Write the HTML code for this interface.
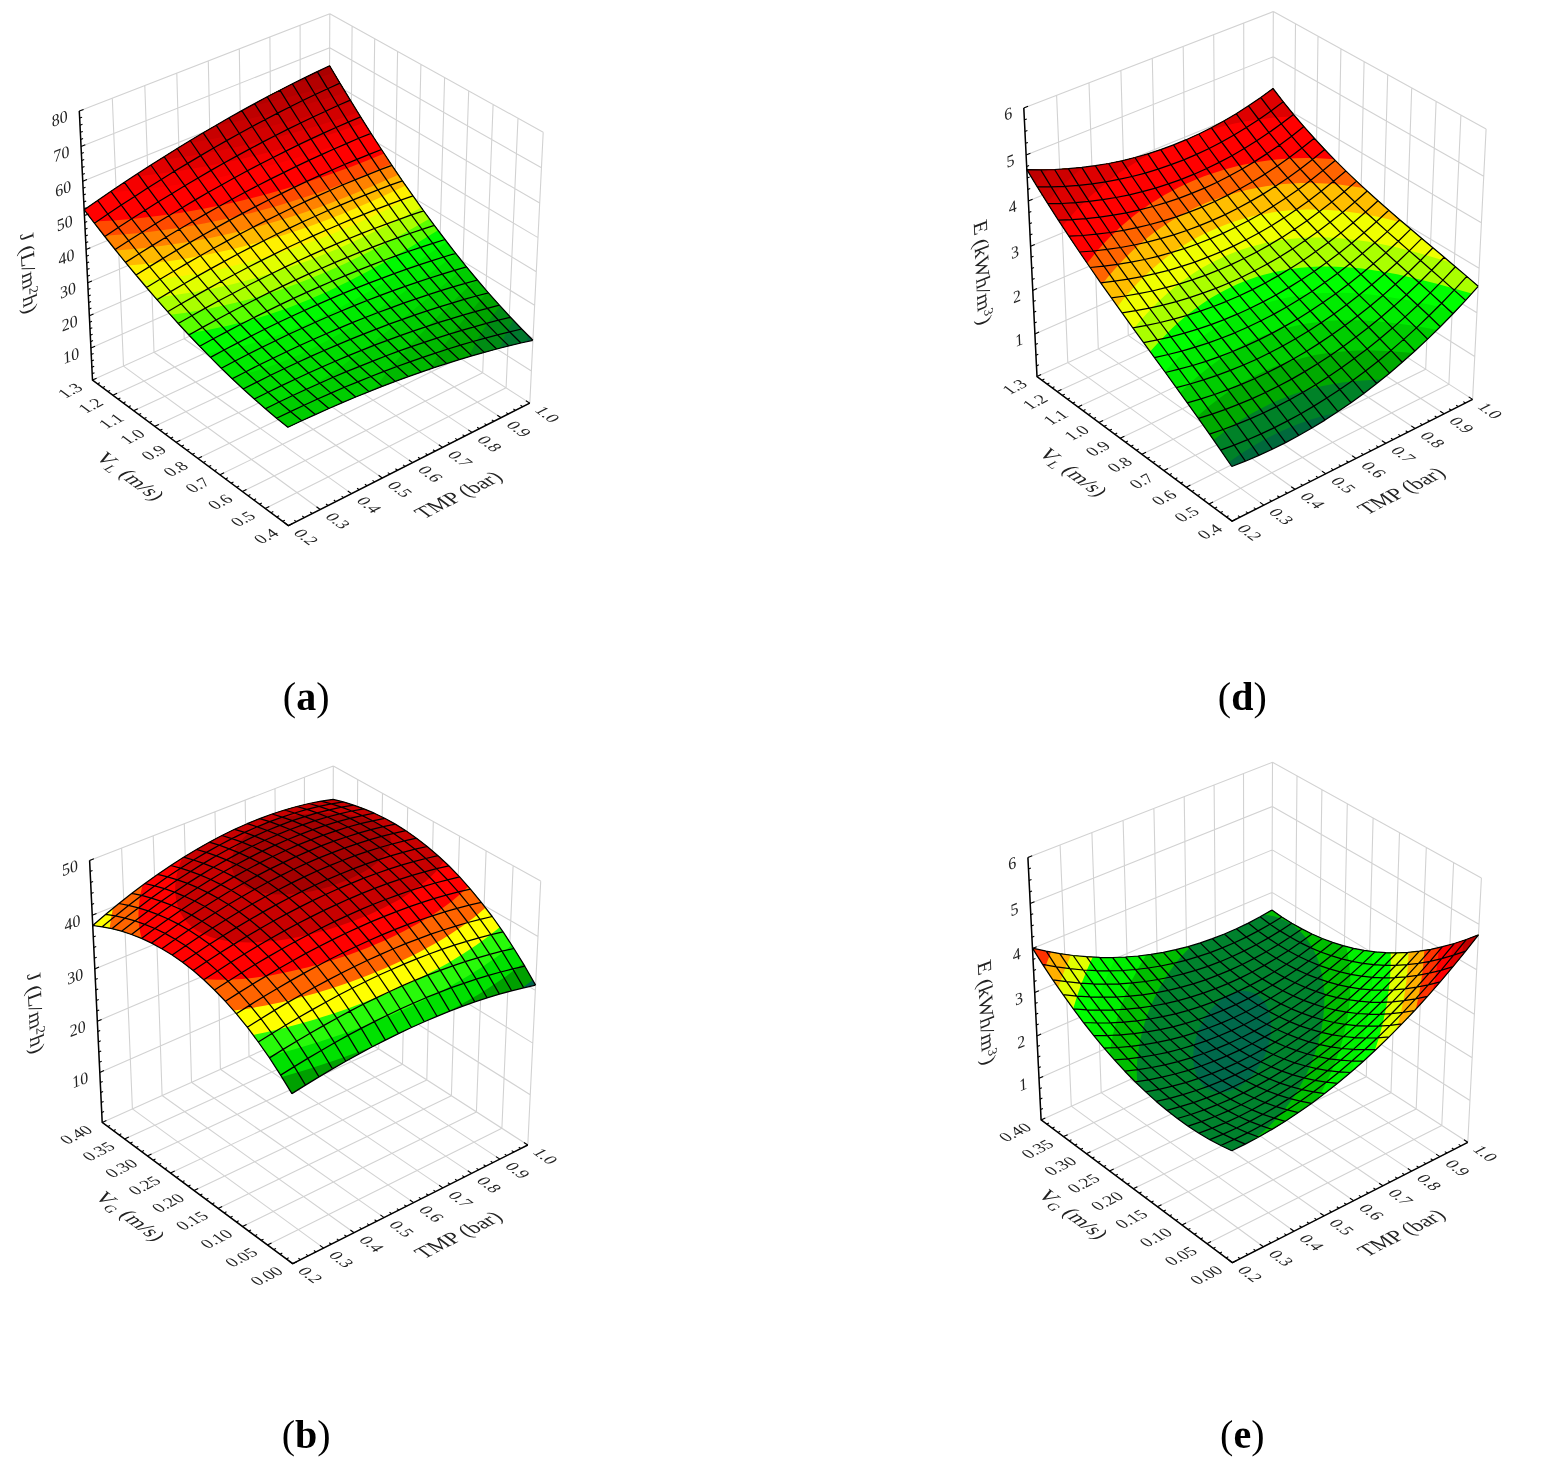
<!DOCTYPE html>
<html><head><meta charset="utf-8"><title>Figure</title>
<style>
html,body{margin:0;padding:0;background:#fff}
body{width:1546px;height:1476px;position:relative;overflow:hidden}
svg{position:absolute;left:0;top:0}
.g{fill:none;stroke:#d2d2d2;stroke-width:1.1}
.m{fill:none;stroke:#000;stroke-width:1.25;stroke-linejoin:round}
.ax{fill:none;stroke:#000;stroke-width:1.5;stroke-linejoin:miter}
.tk{fill:none;stroke:#000;stroke-width:1.1}
.tl text{font-family:"Liberation Serif",serif;fill:#222}
.pl{font-family:"Liberation Serif",serif;font-size:40px;fill:#000}
</style></head><body>
<svg width="1546" height="1476" viewBox="0 0 1546 1476">
<g>
<path d="M288.4,525.7L92.5,380.1M92.5,380.1L79.3,111M320.2,509.5L123.5,366.1M123.5,366.1L112.3,98.2M351.5,493.6L154,352.3M154,352.3L144.8,85.6M382.3,478L184.2,338.7M184.2,338.7L176.8,73.2M412.7,462.6L213.9,325.3M213.9,325.3L208.3,60.9M442.6,447.4L243.2,312M243.2,312L239.3,48.9M472.1,432.4L272.1,299M272.1,299L269.9,37M501.2,417.7L300.6,286.1M300.6,286.1L300.1,25.2M529.8,403.1L328.7,273.4M328.7,273.4L329.8,13.7M288.4,525.7L529.8,403.1M529.8,403.1L543.2,132.2M265.2,508.4L506.1,387.8M506.1,387.8L518,118.1M242.4,491.5L482.7,372.8M482.7,372.8L493.1,104.4M220,474.8L459.7,357.9M459.7,357.9L468.7,90.8M197.9,458.4L437.1,343.3M437.1,343.3L444.6,77.4M176.1,442.2L414.8,328.9M414.8,328.9L420.9,64.3M154.7,426.3L392.8,314.7M392.8,314.7L397.6,51.3M133.6,410.7L371.1,300.8M371.1,300.8L374.7,38.6M112.9,395.3L349.8,287M349.8,287L352.1,26M92.5,380.1L328.7,273.4M328.7,273.4L329.8,13.7M92.5,380.1L328.7,273.4M328.7,273.4L529.8,403.1M90.9,348.1L328.9,242.5M328.9,242.5L531.4,371M89.3,315.7L329,211.1M329,211.1L533,338.4M87.7,282.8L329.1,179.4M329.1,179.4L534.6,305.3M86.1,249.5L329.3,147.1M329.3,147.1L536.3,271.7M84.4,215.6L329.4,114.5M329.4,114.5L538,237.6M82.8,181.3L329.5,81.3M329.5,81.3L539.7,203M81.1,146.4L329.7,47.8M329.7,47.8L541.5,167.8M79.3,111L329.8,13.7M329.8,13.7L543.2,132.2" class="g"/>
<path d="M287.9,427.3L318.7,413L335.6,405.5L352.4,398.4L382.2,386.4L398.6,380.2L414.8,374.3L443.6,364.6L459.3,359.6L475,355L502.7,347.5L517.9,343.7L532.9,340.3L521.7,329L507.7,314.3L496.6,302.1L482.9,286.4L472,273.5L458.4,256.7L445,239.5L431.6,221.7L421,207.1L407.7,188.4L394.6,169.2L381.5,149.5L368.4,129.2L355.4,108.5L342.5,87.4L329.6,65.7L298.6,80.7L270.4,95.1L238.6,112.4L209.7,129L177.2,148.5L147.6,167.2L114.4,189L84.2,209.8L109.9,243L122.9,259.2L136,275L149.1,290.5L162.3,305.7L175.6,320.5L186.2,332.1L199.7,346.3L210.5,357.4L224,370.8L235,381.3L248.8,394L259.9,403.9L273.8,415.8L285.1,425.1Z" fill="#00693c"/>
<path d="M287.9,427.3L318.7,413L349.1,399.8L378.9,387.7L408.3,376.6L437.2,366.7L453,361.6L468.7,356.8L496.6,349L511.8,345.2L526,341.8L528.2,335.6L516.1,323.2L502.2,308.3L491.1,295.9L477.4,280L466.5,266.8L453,249.9L442.3,236L428.9,218.1L418.3,203.4L405.1,184.6L391.9,165.3L378.8,145.4L368.4,129.2L355.4,108.5L342.5,87.4L329.6,65.7L298.6,80.7L270.4,95.1L238.6,112.4L209.7,129L177.2,148.5L147.6,167.2L114.4,189L84.2,209.8L99.6,229.9L112.5,246.3L125.5,262.4L138.6,278.1L151.7,293.6L164.9,308.7L178.2,323.5L188.9,335L202.3,349.1L213.2,360.1L226.8,373.5L237.7,383.9L251.5,396.5L262.6,406.3L276.6,418.2Z" fill="#00782d" fill-rule="evenodd"/>
<path d="M287.9,427.3L315.3,414.6L342.4,402.6L369,391.6L395.3,381.4L421.2,372.1L446.7,363.6L475,355L499.8,348.2L501.3,344.4L504.6,336.6L508.6,328.5L513.2,320.1L502.2,308.3L491.1,295.9L480.2,283.2L469.3,270.2L458.4,256.7L447.7,243L436.9,228.9L423.6,210.8L413,195.9L399.8,176.9L389.3,161.3L376.2,141.4L365.8,125.1L352.8,104.3L329.6,65.7L298.6,80.7L270.4,95.1L238.6,112.4L209.7,129L177.2,148.5L147.6,167.2L114.4,189L84.2,209.8L99.6,229.9L112.5,246.3L125.5,262.4L138.6,278.1L151.7,293.6L164.9,308.7L178.2,323.5L188.9,335L202.3,349.1L213.2,360.1L226.8,373.5L237.7,383.9L251.5,396.5L262.6,406.3L276.6,418.2Z" fill="#008c14" fill-rule="evenodd"/>
<path d="M287.9,427.3L308.5,417.7L332.3,407L355.7,397L378.9,387.7L401.8,379L424.4,371L446.7,363.6L469.1,356.7L470.7,352.8L474.7,344.6L481.8,331.9L490.5,318.6L499.9,305.7L480.2,283.2L469.3,270.2L458.4,256.7L447.7,243L436.9,228.9L415.7,199.7L394.6,169.2L373.6,137.4L352.8,104.3L329.6,65.7L298.6,80.7L270.4,95.1L238.6,112.4L209.7,129L177.2,148.5L147.6,167.2L114.4,189L84.2,209.8L99.6,229.9L112.5,246.3L125.5,262.4L138.6,278.1L151.7,293.6L164.9,308.7L178.2,323.5L188.9,335L202.3,349.1L213.2,360.1L226.8,373.5L237.7,383.9L251.5,396.5L262.6,406.3L276.6,418.2Z" fill="#00a500" fill-rule="evenodd"/>
<path d="M287.9,427.3L305.1,419.2L322.1,411.5L339,404.1L359.1,395.6L375.6,389L395.3,381.4L411.5,375.5L430.6,368.9L435,360.4L440.3,351.5L446.4,342.3L453.3,332.9L460.8,323.2L468.9,313.4L477.5,303.4L487.7,292L469.3,270.2L450.3,246.5L431.6,221.7L410.4,192.2L391.9,165.3L371,133.3L350.3,100.1L329.6,65.7L298.6,80.7L270.4,95.1L238.6,112.4L209.7,129L177.2,148.5L147.6,167.2L114.4,189L84.2,209.8L99.6,229.9L112.5,246.3L125.5,262.4L138.6,278.1L151.7,293.6L164.9,308.7L178.2,323.5L188.9,335L202.3,349.1L213.2,360.1L226.8,373.5L237.7,383.9L251.5,396.5L262.6,406.3L276.6,418.2Z" fill="#00b900" fill-rule="evenodd"/>
<path d="M287.9,427.3L308.5,417.7L332.3,407L352.4,398.4L374.4,389.5L381.2,379.7L389.1,369.4L398,358.8L412.6,342.5L423.1,331.4L439.6,314.6L456.8,297.7L476.5,278.9L458.4,256.7L442.3,236L423.6,210.8L405.1,184.6L386.7,157.4L368.4,129.2L350.3,100.1L329.6,65.7L298.6,80.7L270.4,95.1L238.6,112.4L209.7,129L177.2,148.5L147.6,167.2L114.4,189L84.2,209.8L99.6,229.9L112.5,246.3L125.5,262.4L138.6,278.1L151.7,293.6L164.9,308.7L178.2,323.5L188.9,335L202.3,349.1L213.2,360.1L226.8,373.5L237.7,383.9L251.5,396.5L262.6,406.3L276.6,418.2Z" fill="#00cd00" fill-rule="evenodd"/>
<path d="M273.8,404.6L283.1,400.9L290,397.7L296.7,394.4L306.3,389.2L315.4,383.8L324.2,378.2L332.7,372.5L343.7,364.7L362.1,351L387.2,331.2L413.6,309.7L466.1,266.2L450.3,246.5L434.3,225.3L418.3,203.4L399.8,176.9L384.1,153.4L365.8,125.1L347.7,95.9L329.6,65.7L298.6,80.7L270.4,95.1L238.6,112.4L209.7,129L177.2,148.5L147.6,167.2L114.4,189L84.2,209.8L99.6,229.9L115.1,249.5L130.8,268.7L143.8,284.4L159.6,302.7L172.9,317.6L188.9,335L202.3,349.1L218.6,365.5L232.2,378.7L248.8,394L264.4,407.9Z" fill="#00dc00" fill-rule="evenodd"/>
<path d="M281.1,362.3L289,359.1L299.3,354.7L309.2,350L318.7,345.2L337.1,335.2L357.3,323.2L376.5,310.8L400.1,294.8L425.1,276.9L456.2,253.9L442.3,236L426.3,214.5L410.4,192.2L394.6,169.2L378.8,145.4L363.2,121L347.7,95.9L329.6,65.7L298.6,80.7L270.4,95.1L238.6,112.4L209.7,129L177.2,148.5L147.6,167.2L114.4,189L84.2,209.8L104.8,236.5L122.9,259.2L141.2,281.3L159.6,302.7L178.2,323.5L194.3,340.7L213.2,360.1L230.8,377.3L243.5,374.3L255.6,371L267.3,367.3Z" fill="#00eb00" fill-rule="evenodd"/>
<path d="M279.7,334.5L297,327.8L307.1,323.5L316.9,319L335.8,309.8L356.7,298.6L376.7,287.2L398.4,273.8L421.9,258.7L446.9,242L431.6,221.7L418.3,203.4L405.1,184.6L389.3,161.3L376.2,141.4L360.6,116.9L345.1,91.6L329.6,65.7L298.6,80.7L270.4,95.1L238.6,112.4L209.7,129L177.2,148.5L147.6,167.2L114.4,189L84.2,209.8L99.6,229.9L115.1,249.5L130.8,268.7L146.5,287.5L162.3,305.7L178.2,323.5L191.6,337.9L206.9,353.8L224.5,350.4L232.9,348.5L245.2,345.4L260.9,340.9Z" fill="#00fa00" fill-rule="evenodd"/>
<path d="M268.8,314.5L287.9,307.9L308.5,299.8L328.1,291.2L346.7,282.3L367.5,271.5L390.2,259L411.9,246.3L438,230.2L423.6,210.8L410.4,192.2L397.2,173.1L384.1,153.4L371,133.3L358,112.7L345.1,91.6L329.6,65.7L298.6,80.7L270.4,95.1L238.6,112.4L209.7,129L177.2,148.5L147.6,167.2L114.4,189L84.2,209.8L109.9,243L122.9,259.2L136,275L149.1,290.5L162.3,305.7L175.6,320.5L187.4,333.3L196.5,332L209.8,329.6L226.8,326.1L247,321L258.6,317.7Z" fill="#5aff00" fill-rule="evenodd"/>
<path d="M297.5,283.5L312.1,277.8L328.4,271L344.2,263.9L359.4,256.6L377.1,247.7L394.2,238.7L410.7,229.5L429.4,218.8L418.3,203.4L405.1,184.6L391.9,165.3L378.8,145.4L368.4,129.2L355.4,108.5L342.5,87.4L329.6,65.7L298.6,80.7L270.4,95.1L238.6,112.4L209.7,129L177.2,148.5L147.6,167.2L114.4,189L84.2,209.8L107.4,239.7L128.1,265.5L149.1,290.5L170.3,314.8L184.2,312.9L202,310L219,306.6L235.4,302.8L251.2,298.7L266.3,294.2L280.9,289.4Z" fill="#aaff00" fill-rule="evenodd"/>
<path d="M311.3,259.4L323.6,254.6L336.5,249.2L349.1,243.7L364.3,236.6L390.7,223.7L404.8,216.4L421.2,207.5L399.8,176.9L389.3,161.3L376.2,141.4L365.8,125.1L352.8,104.3L329.6,65.7L298.6,80.7L270.4,95.1L238.6,112.4L209.7,129L177.2,148.5L147.6,167.2L114.4,189L84.2,209.8L102.2,233.2L120.3,256L138.6,278.1L155.1,297.5L173.7,295.2L196,291.7L213,288.5L233.5,283.9L253.1,278.8L271.8,273.3L289.7,267.3Z" fill="#e1ff00" fill-rule="evenodd"/>
<path d="M302.9,245.1L316.4,240.1L329.6,235L354.9,224.4L370.1,217.5L384.9,210.6L413.3,196.4L391.9,165.3L371,133.3L350.3,100.1L329.6,65.7L298.6,80.7L270.4,95.1L238.6,112.4L209.7,129L177.2,148.5L147.6,167.2L114.4,189L84.2,209.8L99.6,229.9L112.5,246.3L128.1,265.5L141.1,281.1L164.5,278.5L182.5,276L204.1,272.2L224.8,267.9L244.6,263.1L263.6,257.9L281.9,252.3Z" fill="#fff000" fill-rule="evenodd"/>
<path d="M340.9,214.4L358.4,207.1L373.6,200.5L388.4,193.7L405.7,185.5L386.7,157.4L368.4,129.2L350.3,100.1L329.6,65.7L298.6,80.7L270.4,95.1L238.6,112.4L209.7,129L177.2,148.5L147.6,167.2L114.4,189L84.2,209.8L107.4,239.7L128,265.4L142.4,264.2L156.4,262.6L170,260.9L183.3,258.9L196.2,256.7L208.8,254.3L233.2,249L248.7,245.1L260.1,242L271.2,238.8L285.6,234.4L299.6,229.7L313.3,224.9L326.6,220Z" fill="#ffb900" fill-rule="evenodd"/>
<path d="M298.4,214.5L320.9,206.7L346.8,196.8L371.6,186.6L398.3,174.7L381.5,149.5L363.2,121L347.7,95.9L329.6,65.7L298.6,80.7L270.4,95.1L238.6,112.4L209.7,129L177.2,148.5L147.6,167.2L114.4,189L84.2,209.8L99.6,229.9L115.8,250.4L139.8,248.4L162.8,245.7L184.8,242.5L210.1,237.9L230.3,233.5L253.5,227.8L275.7,221.6Z" fill="#ff8200" fill-rule="evenodd"/>
<path d="M302.5,198.1L322.3,191.4L345.1,183L367,174.3L391.1,164.1L376.2,141.4L360.6,116.9L345.1,91.6L329.6,65.7L298.6,80.7L270.4,95.1L238.6,112.4L209.7,129L177.2,148.5L147.6,167.2L114.4,189L84.2,209.8L104.3,235.8L128.4,234L142.5,232.7L156.2,231.1L178.3,228L203.8,223.6L228,218.6L251.3,213L277.2,205.9Z" fill="#ff4b00" fill-rule="evenodd"/>
<path d="M350.6,166.9L365.9,161L384.2,153.6L371,133.3L358,112.7L345.1,91.6L329.6,65.7L298.6,80.7L270.4,95.1L238.6,112.4L209.7,129L177.2,148.5L147.6,167.2L114.4,189L84.2,209.8L93.2,221.6L113.7,220.4L136.5,218.4L159.2,215.8L181,212.7L202.1,209L222.4,205L242,200.5L264.6,194.8L286.4,188.6L307.3,182.1L327.5,175.3Z" fill="#ff0000" fill-rule="evenodd"/>
<path d="M331.2,160.3L352.5,152.7L377.4,143.2L365.8,125.1L352.8,104.3L329.6,65.7L298.6,80.7L270.4,95.1L238.6,112.4L209.7,129L177.2,148.5L147.6,167.2L117.7,186.8L87.2,207.6L102.4,206.8L116.9,205.8L135.6,204.1L149.2,202.6L162.6,200.9L179.9,198.4L196.8,195.6L209.1,193.3L225.2,190L240.8,186.5L256,182.8L270.8,179L285.2,174.9L299.3,170.7L316.4,165.3Z" fill="#ff0000" fill-rule="evenodd"/>
<path d="M316,152L342.2,143.3L370.7,132.9L350.3,100.1L329.6,65.7L301.8,79.1L276.7,91.8L248.2,107.1L222.6,121.5L193.5,138.6L167.4,154.6L137.7,173.6L109.3,192.4L135.1,190.2L161.9,187L187.7,183.2L212.4,178.7L236.1,173.7L262.6,167.4L288,160.5Z" fill="#f50000" fill-rule="evenodd"/>
<path d="M337.6,132L364.3,122.7L347.7,95.9L329.6,65.7L304.9,77.6L279.9,90.2L254.6,103.6L232.2,116L206.5,130.9L183.7,144.5L157.5,160.8L132.8,176.8L157.3,174L183.1,170.3L207.9,166L235.6,160.3L262.1,154.1L287.5,147.4L311.9,140.2Z" fill="#e10000" fill-rule="evenodd"/>
<path d="M315.5,126.4L335.3,120.2L357.9,112.6L345.1,91.6L329.6,65.7L308,76.1L286.1,87L264.1,98.5L245,108.8L222.6,121.5L203.2,132.8L180.5,146.5L157.8,160.6L174.7,158.3L195.6,155L215.9,151.3L235.5,147.2L254.5,142.9L276.6,137.4L294.4,132.6Z" fill="#d20000" fill-rule="evenodd"/>
<path d="M327.2,110.4L351.7,102.5L329.6,65.7L311.1,74.5L292.4,83.8L273.6,93.5L257.7,101.9L238.6,112.4L222.6,121.5L203.2,132.8L185,143.8L204,140.6L220,137.6L235.6,134.4L254.6,130.1L273.1,125.6L291,120.9L308.5,116Z" fill="#c80000" fill-rule="evenodd"/>
<path d="M336.5,95.5L345.7,92.6L329.6,65.7L301.8,79.1L273.6,93.5L245,108.8L214.9,125.9L243.7,120.1L273.4,113.1L287.8,109.5L305.4,104.7Z" fill="#be0000" fill-rule="evenodd"/>
<path d="M310.8,91.2L339.7,82.7L329.6,65.7L308,76.1L289.3,85.4L270.4,95.1L249,106.6L263,103.5L281.2,99.1Z" fill="#b40000" fill-rule="evenodd"/>
<path d="M314.5,78.4L333.8,72.9L329.6,65.7L311.1,74.5L290.2,84.9Z" fill="#aa0000" fill-rule="evenodd"/>
<path d="M287.9,427.3L276.6,418.2L265.4,408.7L254.3,399L243.2,389L232.2,378.7L221.3,368.2L210.5,357.4L199.7,346.3L188.9,335L178.2,323.5L167.6,311.7L157,299.7L146.5,287.5L136,275L125.5,262.4L115.1,249.5L104.8,236.5L94.4,223.2L84.2,209.8M301.7,420.8L290.4,411.6L279.1,402L268,392.2L256.9,382.1L245.9,371.7L235,361L224.1,350L213.3,338.8L202.5,327.4L191.8,315.7L181.2,303.8L170.6,291.6L160,279.2L149.5,266.6L139.1,253.8L128.6,240.7L118.3,227.5L107.9,214.1L97.6,200.4M315.3,414.6L304,405.2L292.8,395.5L281.6,385.6L270.5,375.3L259.5,364.8L248.6,354L237.7,342.9L226.9,331.6L216.1,320L205.4,308.1L194.7,296.1L184.1,283.7L173.5,271.2L163,258.4L152.5,245.4L142.1,232.2L131.7,218.8L121.3,205.1L111,191.3M328.9,408.5L317.6,399L306.3,389.3L295.2,379.2L284.1,368.8L273,358.2L262.1,347.2L251.2,336L240.3,324.5L229.6,312.8L218.8,300.8L208.2,288.6L197.5,276.1L187,263.4L176.4,250.4L165.9,237.2L155.5,223.8L145.1,210.2L134.7,196.4L124.4,182.3M342.4,402.6L331,393.1L319.8,383.2L308.6,373L297.5,362.5L286.5,351.7L275.5,340.7L264.6,329.3L253.7,317.7L243,305.8L232.2,293.7L221.5,281.3L210.9,268.6L200.3,255.7L189.8,242.6L179.3,229.2L168.8,215.7L158.4,201.8L148,187.8L137.7,173.6M355.7,397L344.4,387.3L333.1,377.3L322,367L310.8,356.4L299.8,345.5L288.8,334.3L277.9,322.8L267.1,311.1L256.3,299L245.5,286.7L234.8,274.2L224.2,261.4L213.6,248.3L203.1,235L192.6,221.5L182.1,207.7L171.7,193.7L161.3,179.5L150.9,165M369,391.6L357.7,381.8L346.4,371.7L335.2,361.3L324.1,350.5L313.1,339.5L302.1,328.2L291.2,316.5L280.3,304.6L269.5,292.4L258.8,280L248.1,267.3L237.4,254.3L226.8,241.1L216.3,227.6L205.8,213.9L195.3,199.9L184.8,185.7L174.4,171.3L164.1,156.7M382.2,386.4L370.9,376.5L359.6,366.3L348.4,355.7L337.3,344.9L326.2,333.7L315.3,322.2L304.3,310.5L293.5,298.4L282.7,286.1L271.9,273.5L261.2,260.6L250.6,247.4L240,234L229.4,220.4L218.9,206.5L208.4,192.3L198,178L187.6,163.4L177.2,148.5M395.3,381.4L384,371.4L372.7,361.1L361.5,350.4L350.4,339.4L339.3,328.1L328.3,316.5L317.4,304.6L306.6,292.4L295.8,279.9L285,267.1L274.3,254.1L263.7,240.8L253.1,227.2L242.5,213.4L232,199.3L221.5,185L211,170.4L200.6,155.6L190.2,140.5M408.3,376.6L397,366.5L385.7,356L374.5,345.2L363.4,334.1L352.3,322.7L341.4,311L330.4,298.9L319.6,286.6L308.8,273.9L298,261L287.3,247.8L276.7,234.3L266.1,220.6L255.5,206.6L245,192.3L234.5,177.8L224,163L213.6,148L203.2,132.8M421.2,372.1L409.9,361.8L398.6,351.2L387.4,340.3L376.3,329.1L365.2,317.5L354.3,305.6L343.3,293.4L332.5,281L321.7,268.2L310.9,255.1L300.2,241.7L289.6,228.1L279,214.2L268.4,200L257.9,185.5L247.4,170.8L237,155.9L226.6,140.6L216.2,125.2M434,367.7L422.7,357.4L411.4,346.7L400.2,335.6L389.1,324.2L378.1,312.5L367.1,300.5L356.2,288.2L345.3,275.6L334.5,262.6L323.8,249.4L313.1,235.9L302.4,222L291.8,208L281.3,193.6L270.8,178.9L260.3,164L249.8,148.9L239.4,133.5L229,117.8M446.7,363.6L435.4,353.1L424.1,342.3L413,331.1L401.8,319.6L390.8,307.8L379.8,295.6L368.9,283.1L358.1,270.3L347.3,257.3L336.5,243.9L325.9,230.2L315.2,216.2L304.6,201.9L294.1,187.4L283.6,172.6L273.1,157.5L262.6,142.1L252.2,126.5L241.8,110.6M459.3,359.6L448,349L436.8,338.1L425.6,326.8L414.5,315.2L403.5,303.2L392.5,290.9L381.6,278.3L370.8,265.3L360,252.1L349.2,238.5L338.6,224.7L327.9,210.5L317.3,196.1L306.8,181.4L296.3,166.4L285.8,151.1L275.4,135.5L265,119.7L254.6,103.6M471.8,355.9L460.5,345.2L449.3,334.1L438.1,322.7L427,310.9L416,298.8L405.1,286.4L394.2,273.6L383.3,260.5L372.6,247.1L361.8,233.4L351.2,219.4L340.5,205.1L330,190.5L319.4,175.6L308.9,160.4L298.4,144.9L288,129.1L277.6,113.1L267.2,96.8M484.3,352.4L472.9,341.5L461.7,330.3L450.6,318.8L439.5,306.9L428.5,294.7L417.5,282.1L406.7,269.2L395.8,255.9L385.1,242.4L374.4,228.5L363.7,214.3L353.1,199.8L342.5,185L332,170L321.5,154.6L311,138.9L300.6,123L290.2,106.7L279.9,90.2M496.6,349L485.3,338.1L474.1,326.8L462.9,315.1L451.9,303.1L440.9,290.7L429.9,278L419.1,264.9L408.2,251.5L397.5,237.8L386.8,223.8L376.1,209.4L365.5,194.8L355,179.8L344.5,164.5L334,149L323.5,133.1L313.1,117L302.7,100.5L292.4,83.8M508.8,345.9L497.5,334.9L486.3,323.4L475.2,311.6L464.1,299.4L453.1,286.9L442.2,274.1L431.4,260.9L420.6,247.3L409.8,233.5L399.2,219.3L388.5,204.7L377.9,189.9L367.4,174.8L356.9,159.3L346.4,143.6L336,127.5L325.6,111.2L315.2,94.5L304.9,77.6M520.9,343L509.6,331.8L498.4,320.2L487.3,308.3L476.3,296L465.3,283.4L454.4,270.3L443.6,257L432.8,243.3L422.1,229.3L411.4,214.9L400.8,200.2L390.2,185.2L379.7,169.9L369.2,154.3L358.7,138.3L348.3,122.1L337.9,105.5L327.6,88.7L317.3,71.6M532.9,340.3L521.7,329L510.5,317.3L499.4,305.2L488.4,292.8L477.4,280L466.5,266.8L455.7,253.3L445,239.5L434.3,225.3L423.6,210.8L413,195.9L402.4,180.8L391.9,165.3L381.5,149.5L371,133.3L360.6,116.9L350.3,100.1L339.9,83.1L329.6,65.7M287.9,427.3L301.7,420.8L315.3,414.6L328.9,408.5L342.4,402.6L355.7,397L369,391.6L382.2,386.4L395.3,381.4L408.3,376.6L421.2,372.1L434,367.7L446.7,363.6L459.3,359.6L471.8,355.9L484.3,352.4L496.6,349L508.8,345.9L520.9,343L532.9,340.3M276.6,418.2L290.4,411.6L304,405.2L317.6,399L331,393.1L344.4,387.3L357.7,381.8L370.9,376.5L384,371.4L397,366.5L409.9,361.8L422.7,357.4L435.4,353.1L448,349L460.5,345.2L472.9,341.5L485.3,338.1L497.5,334.9L509.6,331.8L521.7,329M265.4,408.7L279.1,402L292.8,395.5L306.3,389.3L319.8,383.2L333.1,377.3L346.4,371.7L359.6,366.3L372.7,361.1L385.7,356L398.6,351.2L411.4,346.7L424.1,342.3L436.8,338.1L449.3,334.1L461.7,330.3L474.1,326.8L486.3,323.4L498.4,320.2L510.5,317.3M254.3,399L268,392.2L281.6,385.6L295.2,379.2L308.6,373L322,367L335.2,361.3L348.4,355.7L361.5,350.4L374.5,345.2L387.4,340.3L400.2,335.6L413,331.1L425.6,326.8L438.1,322.7L450.6,318.8L462.9,315.1L475.2,311.6L487.3,308.3L499.4,305.2M243.2,389L256.9,382.1L270.5,375.3L284.1,368.8L297.5,362.5L310.8,356.4L324.1,350.5L337.3,344.9L350.4,339.4L363.4,334.1L376.3,329.1L389.1,324.2L401.8,319.6L414.5,315.2L427,310.9L439.5,306.9L451.9,303.1L464.1,299.4L476.3,296L488.4,292.8M232.2,378.7L245.9,371.7L259.5,364.8L273,358.2L286.5,351.7L299.8,345.5L313.1,339.5L326.2,333.7L339.3,328.1L352.3,322.7L365.2,317.5L378.1,312.5L390.8,307.8L403.5,303.2L416,298.8L428.5,294.7L440.9,290.7L453.1,286.9L465.3,283.4L477.4,280M221.3,368.2L235,361L248.6,354L262.1,347.2L275.5,340.7L288.8,334.3L302.1,328.2L315.3,322.2L328.3,316.5L341.4,311L354.3,305.6L367.1,300.5L379.8,295.6L392.5,290.9L405.1,286.4L417.5,282.1L429.9,278L442.2,274.1L454.4,270.3L466.5,266.8M210.5,357.4L224.1,350L237.7,342.9L251.2,336L264.6,329.3L277.9,322.8L291.2,316.5L304.3,310.5L317.4,304.6L330.4,298.9L343.3,293.4L356.2,288.2L368.9,283.1L381.6,278.3L394.2,273.6L406.7,269.2L419.1,264.9L431.4,260.9L443.6,257L455.7,253.3M199.7,346.3L213.3,338.8L226.9,331.6L240.3,324.5L253.7,317.7L267.1,311.1L280.3,304.6L293.5,298.4L306.6,292.4L319.6,286.6L332.5,281L345.3,275.6L358.1,270.3L370.8,265.3L383.3,260.5L395.8,255.9L408.2,251.5L420.6,247.3L432.8,243.3L445,239.5M188.9,335L202.5,327.4L216.1,320L229.6,312.8L243,305.8L256.3,299L269.5,292.4L282.7,286.1L295.8,279.9L308.8,273.9L321.7,268.2L334.5,262.6L347.3,257.3L360,252.1L372.6,247.1L385.1,242.4L397.5,237.8L409.8,233.5L422.1,229.3L434.3,225.3M178.2,323.5L191.8,315.7L205.4,308.1L218.8,300.8L232.2,293.7L245.5,286.7L258.8,280L271.9,273.5L285,267.1L298,261L310.9,255.1L323.8,249.4L336.5,243.9L349.2,238.5L361.8,233.4L374.4,228.5L386.8,223.8L399.2,219.3L411.4,214.9L423.6,210.8M167.6,311.7L181.2,303.8L194.7,296.1L208.2,288.6L221.5,281.3L234.8,274.2L248.1,267.3L261.2,260.6L274.3,254.1L287.3,247.8L300.2,241.7L313.1,235.9L325.9,230.2L338.6,224.7L351.2,219.4L363.7,214.3L376.1,209.4L388.5,204.7L400.8,200.2L413,195.9M157,299.7L170.6,291.6L184.1,283.7L197.5,276.1L210.9,268.6L224.2,261.4L237.4,254.3L250.6,247.4L263.7,240.8L276.7,234.3L289.6,228.1L302.4,222L315.2,216.2L327.9,210.5L340.5,205.1L353.1,199.8L365.5,194.8L377.9,189.9L390.2,185.2L402.4,180.8M146.5,287.5L160,279.2L173.5,271.2L187,263.4L200.3,255.7L213.6,248.3L226.8,241.1L240,234L253.1,227.2L266.1,220.6L279,214.2L291.8,208L304.6,201.9L317.3,196.1L330,190.5L342.5,185L355,179.8L367.4,174.8L379.7,169.9L391.9,165.3M136,275L149.5,266.6L163,258.4L176.4,250.4L189.8,242.6L203.1,235L216.3,227.6L229.4,220.4L242.5,213.4L255.5,206.6L268.4,200L281.3,193.6L294.1,187.4L306.8,181.4L319.4,175.6L332,170L344.5,164.5L356.9,159.3L369.2,154.3L381.5,149.5M125.5,262.4L139.1,253.8L152.5,245.4L165.9,237.2L179.3,229.2L192.6,221.5L205.8,213.9L218.9,206.5L232,199.3L245,192.3L257.9,185.5L270.8,178.9L283.6,172.6L296.3,166.4L308.9,160.4L321.5,154.6L334,149L346.4,143.6L358.7,138.3L371,133.3M115.1,249.5L128.6,240.7L142.1,232.2L155.5,223.8L168.8,215.7L182.1,207.7L195.3,199.9L208.4,192.3L221.5,185L234.5,177.8L247.4,170.8L260.3,164L273.1,157.5L285.8,151.1L298.4,144.9L311,138.9L323.5,133.1L336,127.5L348.3,122.1L360.6,116.9M104.8,236.5L118.3,227.5L131.7,218.8L145.1,210.2L158.4,201.8L171.7,193.7L184.8,185.7L198,178L211,170.4L224,163L237,155.9L249.8,148.9L262.6,142.1L275.4,135.5L288,129.1L300.6,123L313.1,117L325.6,111.2L337.9,105.5L350.3,100.1M94.4,223.2L107.9,214.1L121.3,205.1L134.7,196.4L148,187.8L161.3,179.5L174.4,171.3L187.6,163.4L200.6,155.6L213.6,148L226.6,140.6L239.4,133.5L252.2,126.5L265,119.7L277.6,113.1L290.2,106.7L302.7,100.5L315.2,94.5L327.6,88.7L339.9,83.1M84.2,209.8L97.6,200.4L111,191.3L124.4,182.3L137.7,173.6L150.9,165L164.1,156.7L177.2,148.5L190.2,140.5L203.2,132.8L216.2,125.2L229,117.8L241.8,110.6L254.6,103.6L267.2,96.8L279.9,90.2L292.4,83.8L304.9,77.6L317.3,71.6L329.6,65.7" class="m" stroke-width="1.5"/>
<path d="M79.3,111L92.5,380.1L288.4,525.7L529.8,403.1" class="ax" stroke-width="1.8"/>
<path d="M92.5,380.1L96.6,378.2M92.1,373.7L94.5,372.7M91.8,367.3L94.2,366.3M91.5,361L93.9,359.9M91.2,354.6L93.6,353.5M90.9,348.1L95.1,346.3M90.6,341.7L93,340.6M90.3,335.2L92.6,334.2M90,328.7L92.3,327.7M89.6,322.2L92,321.2M89.3,315.7L93.5,313.9M89,309.2L91.4,308.1M88.7,302.6L91.1,301.6M88.4,296.1L90.7,295M88,289.5L90.4,288.4M87.7,282.8L91.9,281M87.4,276.2L89.8,275.2M87.1,269.6L89.5,268.5M86.7,262.9L89.1,261.9M86.4,256.2L88.8,255.2M86.1,249.5L90.3,247.7M85.8,242.8L88.2,241.8M85.4,236L87.8,235M85.1,229.2L87.5,228.2M84.8,222.4L87.2,221.5M84.4,215.6L88.7,213.9M84.1,208.8L86.5,207.8M83.8,202L86.2,201M83.4,195.1L85.8,194.1M83.1,188.2L85.5,187.2M82.8,181.3L87,179.6M82.4,174.4L84.8,173.4M82.1,167.4L84.5,166.4M81.8,160.4L84.2,159.5M81.4,153.4L83.8,152.5M81.1,146.4L85.3,144.7M80.7,139.4L83.1,138.4M80.4,132.3L82.8,131.4M80,125.2L82.5,124.3M79.7,118.1L82.1,117.2M79.3,111L83.6,109.4M288.4,525.7L292.5,523.6M282.6,521.3L284.9,520.2M276.8,517L279.1,515.8M271,512.7L273.3,511.5M265.2,508.4L269.3,506.4M259.5,504.2L261.8,503M253.8,499.9L256.1,498.8M248.1,495.7L250.4,494.5M242.4,491.5L246.5,489.4M236.8,487.3L239.1,486.1M231.1,483.1L233.5,482M225.5,478.9L227.9,477.8M220,474.8L224.1,472.8M214.4,470.7L216.7,469.5M208.9,466.6L211.2,465.4M203.4,462.5L205.7,461.3M197.9,458.4L202,456.4M192.4,454.3L194.7,453.2M186.9,450.3L189.3,449.2M181.5,446.2L183.9,445.1M176.1,442.2L180.3,440.3M170.7,438.2L173.1,437.1M165.4,434.2L167.7,433.1M160,430.3L162.4,429.2M154.7,426.3L158.9,424.4M149.4,422.4L151.8,421.3M144.1,418.5L146.5,417.4M138.9,414.6L141.2,413.5M133.6,410.7L137.8,408.7M128.4,406.8L130.8,405.7M123.2,402.9L125.6,401.8M118,399.1L120.4,398M112.9,395.3L117.1,393.3M107.8,391.4L110.1,390.4M102.6,387.6L105,386.6M97.5,383.8L99.9,382.8M92.5,380.1L96.6,378.2M288.4,525.7L284.7,522.9M296.4,521.6L294.3,520.1M304.4,517.6L302.3,516M312.3,513.5L310.2,512M320.2,509.5L316.5,506.8M328.1,505.5L326,504M335.9,501.6L333.8,500M343.7,497.6L341.6,496.1M351.5,493.6L347.8,491M359.2,489.7L357.1,488.2M367,485.8L364.9,484.3M374.7,481.9L372.5,480.4M382.3,478L378.6,475.3M390,474.1L387.8,472.6M397.6,470.3L395.4,468.8M405.2,466.4L403,464.9M412.7,462.6L408.9,460M420.2,458.8L418.1,457.3M427.7,455L425.6,453.5M435.2,451.2L433,449.7M442.6,447.4L438.8,444.8M450,443.6L447.9,442.2M457.4,439.9L455.3,438.4M464.8,436.1L462.6,434.7M472.1,432.4L468.3,429.9M479.4,428.7L477.2,427.3M486.7,425L484.5,423.6M493.9,421.3L491.8,419.9M501.2,417.7L497.3,415.2M508.4,414L506.2,412.6M515.5,410.4L513.4,409M522.7,406.8L520.5,405.3M529.8,403.1L525.9,400.7" class="tk"/>
<g class="tl"><text transform="matrix(0.932 -0.362 0.046 0.999 79.4 358.1)" font-size="17" text-anchor="end">10</text>
<text transform="matrix(0.932 -0.362 0.046 0.999 77.8 325.7)" font-size="17" text-anchor="end">20</text>
<text transform="matrix(0.932 -0.362 0.046 0.999 76.2 292.8)" font-size="17" text-anchor="end">30</text>
<text transform="matrix(0.932 -0.362 0.046 0.999 74.6 259.5)" font-size="17" text-anchor="end">40</text>
<text transform="matrix(0.932 -0.362 0.046 0.999 72.9 225.6)" font-size="17" text-anchor="end">50</text>
<text transform="matrix(0.932 -0.362 0.046 0.999 71.3 191.3)" font-size="17" text-anchor="end">60</text>
<text transform="matrix(0.932 -0.362 0.046 0.999 69.6 156.4)" font-size="17" text-anchor="end">70</text>
<text transform="matrix(0.932 -0.362 0.046 0.999 67.8 121)" font-size="17" text-anchor="end">80</text>
<text transform="matrix(0.893 -0.450 0.805 0.593 280.1 534.7)" font-size="17" text-anchor="end">0.4</text>
<text transform="matrix(0.893 -0.450 0.805 0.593 256.9 517.4)" font-size="17" text-anchor="end">0.5</text>
<text transform="matrix(0.893 -0.450 0.805 0.593 234.1 500.5)" font-size="17" text-anchor="end">0.6</text>
<text transform="matrix(0.893 -0.450 0.805 0.593 211.7 483.8)" font-size="17" text-anchor="end">0.7</text>
<text transform="matrix(0.893 -0.450 0.805 0.593 189.6 467.4)" font-size="17" text-anchor="end">0.8</text>
<text transform="matrix(0.893 -0.450 0.805 0.593 167.8 451.2)" font-size="17" text-anchor="end">0.9</text>
<text transform="matrix(0.893 -0.450 0.805 0.593 146.4 435.3)" font-size="17" text-anchor="end">1.0</text>
<text transform="matrix(0.893 -0.450 0.805 0.593 125.3 419.7)" font-size="17" text-anchor="end">1.1</text>
<text transform="matrix(0.893 -0.450 0.805 0.593 104.6 404.3)" font-size="17" text-anchor="end">1.2</text>
<text transform="matrix(0.893 -0.450 0.805 0.593 84.2 389.1)" font-size="17" text-anchor="end">1.3</text>
<text transform="matrix(0.805 0.593 -0.893 0.450 292.4 533.2)" font-size="17" text-anchor="start">0.2</text>
<text transform="matrix(0.805 0.593 -0.893 0.450 324.2 517)" font-size="17" text-anchor="start">0.3</text>
<text transform="matrix(0.805 0.593 -0.893 0.450 355.5 501.1)" font-size="17" text-anchor="start">0.4</text>
<text transform="matrix(0.805 0.593 -0.893 0.450 386.3 485.5)" font-size="17" text-anchor="start">0.5</text>
<text transform="matrix(0.805 0.593 -0.893 0.450 416.7 470.1)" font-size="17" text-anchor="start">0.6</text>
<text transform="matrix(0.805 0.593 -0.893 0.450 446.6 454.9)" font-size="17" text-anchor="start">0.7</text>
<text transform="matrix(0.805 0.593 -0.893 0.450 476.1 439.9)" font-size="17" text-anchor="start">0.8</text>
<text transform="matrix(0.805 0.593 -0.893 0.450 505.2 425.2)" font-size="17" text-anchor="start">0.9</text>
<text transform="matrix(0.805 0.593 -0.893 0.450 533.8 410.6)" font-size="17" text-anchor="start">1.0</text>
<text transform="matrix(0.893 -0.450 0.805 0.593 464 499)" font-size="21.3" text-anchor="middle">TMP (bar)</text>
<text transform="matrix(0.805 0.593 -0.893 0.450 124 479.5)" font-size="21.3" text-anchor="middle">V<tspan font-size="65%" dy="4">L</tspan><tspan dy="-4"> (m/s)</tspan></text>
<text transform="matrix(0.046 0.999 -0.932 0.362 22 275)" font-size="21.3" text-anchor="middle">J (L/m<tspan font-size="65%" dy="-7">2</tspan><tspan dy="7">h)</tspan></text></g>
</g>
<g>
<path d="M1232.1,521.2L1037,376.5M1037,376.5L1023.8,108M1263.8,505.1L1067.8,362.6M1067.8,362.6L1056.6,95.3M1295,489.3L1098.3,348.9M1098.3,348.9L1089,82.8M1325.7,473.8L1128.3,335.4M1128.3,335.4L1120.9,70.5M1356,458.4L1157.9,322.1M1157.9,322.1L1152.3,58.4M1385.8,443.3L1187.1,308.9M1187.1,308.9L1183.2,46.4M1415.1,428.5L1215.9,296M1215.9,296L1213.7,34.7M1444.1,413.8L1244.3,283.2M1244.3,283.2L1243.7,23.1M1472.6,399.4L1272.3,270.6M1272.3,270.6L1273.3,11.6M1232.1,521.2L1472.6,399.4M1472.6,399.4L1486.1,128.9M1209,504L1448.9,384.2M1448.9,384.2L1460.9,115M1186.3,487.2L1425.7,369.2M1425.7,369.2L1436.1,101.4M1163.9,470.6L1402.7,354.5M1402.7,354.5L1411.7,87.9M1141.9,454.3L1380.2,340M1380.2,340L1387.7,74.7M1120.2,438.2L1357.9,325.7M1357.9,325.7L1364.1,61.7M1098.9,422.4L1336,311.6M1336,311.6L1340.9,48.9M1077.9,406.9L1314.5,297.7M1314.5,297.7L1318,36.3M1057.3,391.5L1293.2,284.1M1293.2,284.1L1295.5,23.9M1037,376.5L1272.3,270.6M1272.3,270.6L1273.3,11.6M1037,376.5L1272.3,270.6M1272.3,270.6L1472.6,399.4M1034.9,333.9L1272.4,229.4M1272.4,229.4L1474.7,356.5M1032.7,290.5L1272.6,187.5M1272.6,187.5L1476.9,312.8M1030.6,246.2L1272.8,144.7M1272.8,144.7L1479.1,268.2M1028.3,201L1273,101.2M1273,101.2L1481.4,222.7M1026.1,155L1273.2,56.8M1273.2,56.8L1483.7,176.3M1023.8,108L1273.3,11.6M1273.3,11.6L1486.1,128.9" class="g"/>
<path d="M1231.8,466.5L1248.8,459.8L1265.6,452.4L1282.3,444.3L1295.5,437.3L1311.9,428L1328.3,418L1344.5,407.2L1357.4,398.1L1373.5,386L1389.5,373.2L1405.4,359.5L1418.1,348.1L1434,333L1449.8,317.1L1465.6,300.4L1478.2,286.3L1458.3,269.2L1410.7,229.1L1388.8,210.3L1367.2,191L1348.5,173.4L1337.9,163L1327.4,152.3L1316.9,141.1L1309.1,132.5L1298.7,120.6L1291,111.4L1280.7,98.5L1273,88.5L1260.8,97.5L1245.5,107.9L1230,117.4L1214.5,126.1L1202,132.5L1186.2,139.7L1170.3,146.2L1154.3,151.8L1141.4,155.8L1125.1,160L1108.6,163.5L1091.9,166.2L1078.5,167.8L1061.5,169.1L1044.2,169.7L1026.8,169.6L1039.9,191.2L1055.7,216.1L1071.5,240.2L1090.1,267.5L1106,290.3L1122.1,312.8L1195.6,414.5L1212.3,438.1L1229,462.4Z" fill="#00693c"/>
<path d="M1322.9,416.1L1335.9,413L1351,402.7L1363.8,393.4L1379.9,381L1392.7,370.5L1405.4,359.5L1414.9,351L1427.6,339.1L1437.1,329.9L1449.8,317.1L1459.3,307.2L1478.2,286.3L1458.3,269.2L1410.7,229.1L1388.8,210.3L1367.2,191L1348.5,173.4L1337.9,163L1327.4,152.3L1316.9,141.1L1309.1,132.5L1298.7,120.6L1291,111.4L1280.7,98.5L1273,88.5L1260.8,97.5L1245.5,107.9L1230,117.4L1214.5,126.1L1202,132.5L1186.2,139.7L1170.3,146.2L1154.3,151.8L1141.4,155.8L1125.1,160L1108.6,163.5L1091.9,166.2L1078.5,167.8L1061.5,169.1L1044.2,169.7L1026.8,169.6L1039.9,191.2L1055.7,216.1L1071.5,240.2L1090.1,267.5L1106,290.3L1122.1,312.8L1195.6,414.5L1212.3,438.1L1228.9,462.2L1240.5,454.1L1252.5,446.4L1265,439.2L1274.8,434.2L1288.4,427.9L1299.1,423.7L1310.3,419.8Z" fill="#008228" fill-rule="evenodd"/>
<path d="M1374.6,379.8L1381.6,379.6L1395.9,367.8L1411.8,353.9L1430.8,336.1L1446.6,320.3L1462.4,303.8L1478.2,286.3L1458.3,269.2L1410.7,229.1L1388.8,210.3L1367.2,191L1348.5,173.4L1337.9,163L1327.4,152.3L1316.9,141.1L1309.1,132.5L1298.7,120.6L1291,111.4L1280.7,98.5L1273,88.5L1260.8,97.5L1245.5,107.9L1230,117.4L1214.5,126.1L1202,132.5L1186.2,139.7L1170.3,146.2L1154.3,151.8L1141.4,155.8L1125.1,160L1108.6,163.5L1091.9,166.2L1078.5,167.8L1061.5,169.1L1044.2,169.7L1026.8,169.6L1039.9,191.2L1055.7,216.1L1071.5,240.2L1090.1,267.5L1119.4,309.1L1184.6,399.1L1213.6,440L1224.6,431.5L1233,425.5L1241.8,419.6L1250.8,414.1L1260.1,408.9L1269.9,403.9L1280,399.4L1290.7,395.2L1301.8,391.4L1309.6,389.1L1321.4,386.2L1330.4,384.4L1342.5,382.4L1353.3,381.2L1363.1,380.4Z" fill="#00aa00" fill-rule="evenodd"/>
<path d="M1407.1,352.6L1412.6,353.1L1421.3,345.1L1437.1,329.9L1449.8,317.1L1465.6,300.4L1478.2,286.3L1458.3,269.2L1410.7,229.1L1388.8,210.3L1367.2,191L1348.5,173.4L1337.9,163L1327.4,152.3L1316.9,141.1L1309.1,132.5L1298.7,120.6L1291,111.4L1280.7,98.5L1273,88.5L1260.8,97.5L1245.5,107.9L1230,117.4L1214.5,126.1L1202,132.5L1186.2,139.7L1170.3,146.2L1154.3,151.8L1141.4,155.8L1125.1,160L1108.6,163.5L1091.9,166.2L1078.5,167.8L1061.5,169.1L1044.2,169.7L1026.8,169.6L1039.9,191.2L1055.7,216.1L1071.5,240.2L1090.1,267.5L1106,290.3L1122.1,312.8L1176.3,387.6L1197.1,416.5L1210,405.5L1220.7,397.2L1232,389.3L1243.7,382L1256.1,375.2L1266,370.5L1272.8,367.6L1279.8,364.8L1290.9,361.1L1302.6,357.9L1315,355.1L1328.3,353L1342.5,351.4L1357.8,350.6L1374.2,350.6L1391.8,351.3Z" fill="#00cd00" fill-rule="evenodd"/>
<path d="M1432.4,329L1437.2,329.9L1449.8,317.1L1459.3,307.2L1478.2,286.3L1458.3,269.2L1410.7,229.1L1388.8,210.3L1367.2,191L1348.5,173.4L1337.9,163L1327.4,152.3L1316.9,141.1L1309.1,132.5L1298.7,120.6L1291,111.4L1280.7,98.5L1273,88.5L1260.8,97.5L1245.5,107.9L1230,117.4L1214.5,126.1L1202,132.5L1186.2,139.7L1170.3,146.2L1154.3,151.8L1141.4,155.8L1125.1,160L1108.6,163.5L1091.9,166.2L1078.5,167.8L1061.5,169.1L1044.2,169.7L1026.8,169.6L1039.9,191.2L1055.7,216.1L1071.5,240.2L1087.4,263.6L1103.4,286.5L1119.4,309.1L1180,392.8L1187.2,385.8L1194.6,379.1L1207.4,368.5L1215.4,362.4L1220.9,358.5L1232.3,351.1L1241.3,346L1247.6,342.7L1254.1,339.6L1260.7,336.7L1267.6,334L1274.8,331.4L1282.3,329.1L1290.1,327L1298.2,325.2L1306.7,323.6L1320.2,321.7L1329.8,320.8L1338.6,320.3L1345.6,320.2L1356.2,320.2L1373.9,321L1393.2,322.9L1414.3,325.8Z" fill="#00eb00" fill-rule="evenodd"/>
<path d="M1455.8,310.8L1465.6,300.4L1478.2,286.3L1458.3,269.2L1410.7,229.1L1388.8,210.3L1367.2,191L1348.5,173.4L1337.9,163L1327.4,152.3L1316.9,141.1L1309.1,132.5L1298.7,120.6L1291,111.4L1280.7,98.5L1273,88.5L1260.8,97.5L1245.5,107.9L1230,117.4L1214.5,126.1L1202,132.5L1186.2,139.7L1170.3,146.2L1154.3,151.8L1141.4,155.8L1125.1,160L1108.6,163.5L1091.9,166.2L1078.5,167.8L1061.5,169.1L1044.2,169.7L1026.8,169.6L1039.9,191.2L1053.1,212L1066.3,232.3L1082.1,255.9L1098,279L1114,301.6L1164.7,371.7L1171.5,364.5L1178.5,357.6L1185.7,350.9L1193.1,344.5L1200.7,338.3L1208.7,332.3L1216.9,326.7L1222.7,323.1L1231.6,318L1237.7,314.8L1247.4,310.3L1254.1,307.5L1264.7,303.6L1272.1,301.3L1279.8,299.3L1287.8,297.4L1296.3,295.9L1305.2,294.6L1314.5,293.6L1324.3,293L1340.2,292.7L1351.6,293.1L1360.9,293.7L1370.2,294.5L1383.7,296.2L1405.8,299.8L1430.1,304.8Z" fill="#00ff00" fill-rule="evenodd"/>
<path d="M1471.7,293.6L1478.2,286.3L1458.3,269.2L1410.7,229.1L1388.8,210.3L1367.2,191L1348.5,173.4L1337.9,163L1327.4,152.3L1316.9,141.1L1309.1,132.5L1298.7,120.6L1291,111.4L1280.7,98.5L1273,88.5L1260.8,97.5L1245.5,107.9L1230,117.4L1214.5,126.1L1202,132.5L1186.2,139.7L1170.3,146.2L1154.3,151.8L1141.4,155.8L1125.1,160L1108.6,163.5L1091.9,166.2L1078.5,167.8L1061.5,169.1L1044.2,169.7L1026.8,169.6L1039.9,191.2L1053.1,212L1066.3,232.3L1079.5,252L1092.7,271.3L1108.7,294.1L1150.1,351.5L1158.8,341.9L1165.5,334.9L1172.4,328.1L1179.5,321.5L1186.9,315.3L1194.6,309.2L1202.6,303.5L1210.9,298.1L1219.6,293L1228.7,288.2L1238.3,283.7L1245,281L1255.5,277.3L1262.9,275L1274.5,272L1282.7,270.4L1291.3,268.9L1300.3,267.8L1309.8,267L1319.8,266.6L1330.5,266.5L1341.9,266.9L1351.2,267.6L1361.8,268.6L1371.9,269.9L1381.6,271.5L1397.1,274.3L1408.9,276.9L1422.8,280.2L1438.8,284.3Z" fill="#aaff00" fill-rule="evenodd"/>
<path d="M1449.6,262.2L1450.3,262.4L1408,226.8L1383.4,205.5L1361.8,186.1L1343.2,168.3L1324.7,149.5L1314.3,138.3L1306.5,129.6L1296.1,117.6L1288.4,108.2L1273,88.5L1260.8,97.5L1245.5,107.9L1230,117.4L1214.5,126.1L1202,132.5L1186.2,139.7L1170.3,146.2L1154.3,151.8L1141.4,155.8L1125.1,160L1108.6,163.5L1091.9,166.2L1078.5,167.8L1061.5,169.1L1044.2,169.7L1026.8,169.6L1037.3,186.9L1050.4,207.9L1061,224.2L1074.2,244.2L1087.4,263.6L1100.7,282.8L1133.6,328.8L1141.9,319L1148.3,311.9L1157.2,302.8L1164.1,296.2L1171.3,289.9L1178.8,283.8L1186.5,278L1194.6,272.5L1203.1,267.3L1211.9,262.5L1221.1,257.9L1230.8,253.7L1241.1,249.8L1248.2,247.5L1259.4,244.4L1267.2,242.6L1276.3,240.8L1288.5,239.1L1297.7,238.2L1307.5,237.6L1317.9,237.4L1328.6,237.6L1340,238.3L1347,238.9L1355.7,239.9L1367.5,241.6L1379.4,243.7L1392.7,246.5L1405.4,249.5L1418.4,253L1433.9,257.4Z" fill="#f0ff00" fill-rule="evenodd"/>
<path d="M1402,222.5L1403.4,222.9L1380.7,203.1L1361.8,186.1L1343.2,168.3L1327.4,152.3L1311.7,135.4L1298.7,120.6L1285.8,105L1273,88.5L1260.8,97.5L1245.5,107.9L1230,117.4L1214.5,126.1L1202,132.5L1186.2,139.7L1170.3,146.2L1154.3,151.8L1141.4,155.8L1125.1,160L1108.6,163.5L1091.9,166.2L1078.5,167.8L1061.5,169.1L1044.2,169.7L1026.8,169.6L1037.3,186.9L1047.8,203.7L1068.9,236.2L1092.7,271.3L1117.5,306.5L1125.5,296.6L1131.8,289.4L1138.2,282.5L1144.9,275.8L1151.8,269.4L1159,263.2L1166.5,257.2L1174.2,251.6L1182.3,246.2L1190.7,241.1L1199.4,236.2L1205.5,233.2L1214.9,228.9L1224.7,224.9L1235.1,221.3L1242.3,219.1L1253.6,216.1L1261.5,214.4L1269.7,212.9L1278.3,211.6L1287.3,210.6L1296.8,209.9L1306.8,209.5L1317.4,209.5L1328.7,210L1338.7,210.7L1347.5,211.7L1358.7,213.2L1368.8,214.9L1381.2,217.4L1393.9,220.4Z" fill="#ffbe00" fill-rule="evenodd"/>
<path d="M1360.2,187.5L1364.1,188.2L1351.1,176L1337.9,163L1324.7,149.5L1314.3,138.3L1303.9,126.6L1293.5,114.5L1283.3,101.8L1273,88.5L1260.8,97.5L1245.5,107.9L1230,117.4L1214.5,126.1L1202,132.5L1186.2,139.7L1170.3,146.2L1154.3,151.8L1141.4,155.8L1125.1,160L1108.6,163.5L1091.9,166.2L1078.5,167.8L1061.5,169.1L1044.2,169.7L1026.8,169.6L1042.6,195.4L1061,224.2L1079.5,252L1102,284.6L1107.9,277.1L1114,269.9L1120.3,263L1126.8,256.2L1133.5,249.7L1140.2,243.8L1147.1,238L1152.8,233.6L1157.9,229.8L1165.8,224.4L1174,219.2L1182.5,214.3L1191.4,209.7L1197.5,206.8L1207,202.6L1213.6,200L1223.8,196.4L1230.8,194.2L1246.1,190.1L1257.5,187.7L1265.8,186.3L1274.4,185.1L1283.4,184.1L1292.8,183.4L1300.5,183.1L1307.9,183L1319.3,183.2L1330.4,183.8L1340.9,184.8L1349.7,185.9Z" fill="#ff6400" fill-rule="evenodd"/>
<path d="M1331.1,159L1334.1,159.2L1316.9,141.1L1301.3,123.6L1285.8,105L1273,88.5L1260.8,97.5L1245.5,107.9L1230,117.4L1214.5,126.1L1202,132.5L1186.2,139.7L1170.3,146.2L1154.3,151.8L1141.4,155.8L1125.1,160L1108.6,163.5L1091.9,166.2L1078.5,167.8L1061.5,169.1L1044.2,169.7L1026.8,169.6L1039.9,191.2L1055.7,216.1L1071.5,240.2L1087.1,263.2L1097.5,250.5L1103.3,244.1L1109.7,237.3L1121,226.5L1128,220.5L1135.3,214.6L1142.9,208.9L1150.7,203.5L1164.4,195L1170.1,191.9L1178.9,187.3L1188,182.9L1194.3,180.2L1204,176.3L1210.7,173.9L1224.7,169.4L1235.7,166.5L1243.4,164.7L1259.4,161.7L1267.9,160.4L1276.7,159.4L1285.9,158.7L1295.6,158.2L1305.8,158L1314.3,158.1Z" fill="#ff0000" fill-rule="evenodd"/>
<path d="M1071.5,240.2L1073,242.4L1078.9,235.2L1085.1,228.1L1091.4,221.3L1098,214.8L1104.7,208.4L1111.8,202.3L1119,196.4L1125.8,191.2L1136.8,183.5L1150.4,175.1L1164.8,167.3L1179.9,160.2L1196,153.7L1209.5,149L1216.5,146.9L1226.6,144.1L1242.6,140.5L1258.9,137.7L1267.4,136.5L1276.3,135.6L1285.5,134.9L1293.9,134.5L1310.7,134.3L1301.3,123.6L1291,111.4L1280.7,98.5L1273,88.5L1260.8,97.5L1245.5,107.9L1230,117.4L1214.5,126.1L1202,132.5L1186.2,139.7L1170.3,146.2L1154.3,151.8L1141.4,155.8L1125.1,160L1108.6,163.5L1091.9,166.2L1078.5,167.8L1061.5,169.1L1044.2,169.7L1026.8,169.6L1037.3,186.9L1047.8,203.7L1058.3,220.2Z" fill="#ff0000" fill-rule="evenodd"/>
<path d="M1061,224.2L1062.3,226.2L1072.4,214.4L1078.7,207.6L1084.4,201.9L1089.7,196.8L1096.7,190.7L1108.7,180.8L1121.3,171.6L1131.9,164.7L1142.9,158.1L1155.4,151.4L1141.4,155.8L1125.1,160L1108.6,163.5L1091.9,166.2L1078.5,167.8L1061.5,169.1L1044.2,169.7L1026.8,169.6L1042.6,195.4ZM1291,116.4L1295.1,116.3L1283.3,101.8L1273,88.5L1257.7,99.6L1248.5,105.8L1239.3,111.8L1230,117.4L1220.7,122.7L1211.3,127.7L1202.8,132.1L1212.4,129.2L1223.2,126.3L1234.5,123.6L1246.3,121.3L1258.7,119.4L1268,118.2L1280.7,117Z" fill="#de0000" fill-rule="evenodd"/>
<path d="M1045.2,199.6L1047.1,202.6L1055.3,193.3L1063.9,184.4L1072.8,176L1082.7,167.3L1068.3,168.7L1054.6,169.5L1040.8,169.8L1026.8,169.6ZM1268.2,92.2L1275.3,91.5L1273,88.5Z" fill="#cd0000" fill-rule="evenodd"/>
<path d="M1034.7,182.6L1035.2,183.4L1041.4,176.6L1048.2,169.7L1037.3,169.8L1026.8,169.6Z" fill="#be0000" fill-rule="evenodd"/>
<path d="M1231.8,466.5L1220.6,450.1L1209.5,434.1L1198.4,418.4L1187.3,402.9L1176.3,387.6L1165.4,372.5L1154.5,357.6L1143.6,342.6L1132.8,327.8L1122.1,312.8L1111.4,297.9L1100.7,282.8L1090.1,267.5L1079.5,252L1068.9,236.2L1058.3,220.2L1047.8,203.7L1037.3,186.9L1026.8,169.6M1245.4,461.2L1234.2,445.1L1223.1,429.5L1212,414.1L1201,398.9L1190,384L1179,369.2L1168.2,354.5L1157.3,339.9L1146.6,325.3L1135.8,310.7L1125.1,296L1114.5,281.2L1103.9,266.2L1093.3,251L1082.7,235.5L1072.2,219.6L1061.7,203.5L1051.2,186.8L1040.8,169.8M1258.9,455.4L1247.7,439.7L1236.6,424.4L1225.5,409.4L1214.5,394.5L1203.5,379.9L1192.6,365.5L1181.7,351.1L1170.9,336.8L1160.2,322.5L1149.4,308.1L1138.8,293.7L1128.1,279.2L1117.5,264.4L1107,249.4L1096.5,234.2L1086,218.6L1075.5,202.7L1065,186.3L1054.6,169.5M1272.3,449.2L1261.1,433.9L1250,418.9L1238.9,404.2L1227.9,389.7L1217,375.4L1206,361.3L1195.2,347.2L1184.4,333.2L1173.6,319.2L1162.9,305.1L1152.3,291L1141.7,276.7L1131.1,262.2L1120.5,247.5L1110,232.5L1099.6,217.2L1089.1,201.4L1078.7,185.3L1068.3,168.7M1285.6,442.6L1274.4,427.6L1263.3,413L1252.2,398.6L1241.2,384.4L1230.3,370.4L1219.4,356.6L1208.5,342.8L1197.7,329.1L1187,315.4L1176.3,301.6L1165.7,287.7L1155.1,273.7L1144.5,259.5L1134,245L1123.5,230.3L1113.1,215.2L1102.6,199.7L1092.2,183.8L1081.8,167.4M1298.8,435.5L1287.6,420.9L1276.5,406.6L1265.5,392.5L1254.5,378.7L1243.5,365L1232.6,351.5L1221.8,338L1211,324.6L1200.3,311.2L1189.6,297.7L1179,284.1L1168.4,270.3L1157.8,256.3L1147.3,242.1L1136.9,227.6L1126.4,212.8L1116,197.5L1105.6,181.9L1095.3,165.7M1311.9,428L1300.8,413.7L1289.7,399.8L1278.6,386L1267.6,372.5L1256.7,359.2L1245.8,345.9L1234.9,332.8L1224.2,319.6L1213.4,306.5L1202.8,293.2L1192.1,279.9L1181.6,266.4L1171,252.7L1160.5,238.7L1150.1,224.5L1139.7,209.9L1129.3,194.9L1118.9,179.4L1108.6,163.5M1325,420.1L1313.8,406.1L1302.7,392.5L1291.7,379.1L1280.7,365.9L1269.7,352.8L1258.8,339.9L1248,327L1237.2,314.2L1226.5,301.3L1215.8,288.4L1205.2,275.3L1194.7,262.1L1184.1,248.6L1173.7,234.9L1163.2,220.9L1152.8,206.5L1142.4,191.7L1132.1,176.5L1121.8,160.8M1338,411.6L1326.8,398L1315.7,384.7L1304.7,371.6L1293.7,358.8L1282.7,346L1271.8,333.4L1261,320.8L1250.2,308.3L1239.5,295.7L1228.8,283L1218.2,270.2L1207.7,257.2L1197.1,244L1186.7,230.5L1176.2,216.8L1165.8,202.6L1155.5,188.1L1145.2,173.1L1134.9,157.5M1351,402.7L1339.8,389.5L1328.7,376.5L1317.6,363.7L1306.6,351.2L1295.6,338.8L1284.7,326.4L1273.9,314.1L1263.1,301.9L1252.4,289.6L1241.7,277.2L1231.1,264.6L1220.6,251.9L1210.1,238.9L1199.6,225.7L1189.2,212.2L1178.8,198.3L1168.4,183.9L1158.1,169.1L1147.8,153.8M1363.8,393.4L1352.7,380.4L1341.5,367.8L1330.4,355.4L1319.4,343.1L1308.5,331L1297.6,319L1286.7,307L1275.9,295L1265.2,283L1254.6,270.8L1243.9,258.5L1233.4,246.1L1222.9,233.4L1212.4,220.4L1202,207.1L1191.6,193.4L1181.3,179.3L1171,164.7L1160.7,149.6M1376.7,383.5L1365.5,370.9L1354.3,358.6L1343.2,346.5L1332.2,334.6L1321.2,322.8L1310.3,311L1299.5,299.3L1288.7,287.6L1278,275.9L1267.3,264L1256.7,252L1246.1,239.8L1235.6,227.3L1225.2,214.6L1214.8,201.5L1204.4,188.1L1194.1,174.2L1183.8,159.8L1173.5,144.9M1389.5,373.2L1378.3,360.9L1367.1,348.9L1356,337.1L1344.9,325.5L1334,314L1323,302.6L1312.2,291.2L1301.4,279.8L1290.7,268.3L1280,256.7L1269.4,244.9L1258.8,233L1248.3,220.8L1237.8,208.3L1227.4,195.4L1217.1,182.2L1206.7,168.5L1196.5,154.4L1186.2,139.7M1402.2,362.3L1391,350.4L1379.8,338.8L1368.7,327.3L1357.6,316L1346.6,304.8L1335.7,293.7L1324.8,282.5L1314,271.4L1303.3,260.2L1292.6,248.9L1282,237.4L1271.4,225.7L1260.9,213.7L1250.4,201.4L1240,188.8L1229.7,175.8L1219.3,162.4L1209.1,148.5L1198.8,134M1414.9,351L1403.7,339.4L1392.5,328.1L1381.3,316.9L1370.3,305.9L1359.2,295.1L1348.3,284.2L1337.4,273.4L1326.6,262.5L1315.8,251.6L1305.1,240.5L1294.5,229.3L1283.9,217.9L1273.4,206.1L1263,194.1L1252.5,181.7L1242.2,169L1231.9,155.7L1221.6,142L1211.3,127.7M1427.6,339.1L1416.4,327.9L1405.1,316.9L1394,306.1L1382.9,295.4L1371.8,284.8L1360.9,274.3L1350,263.7L1339.1,253.2L1328.3,242.5L1317.6,231.7L1307,220.7L1296.4,209.5L1285.9,198L1275.4,186.3L1265,174.1L1254.6,161.6L1244.3,148.5L1234,135L1223.8,121M1440.3,326.7L1429,315.8L1417.7,305.2L1406.5,294.7L1395.4,284.3L1384.4,274L1373.4,263.8L1362.4,253.5L1351.6,243.2L1340.8,232.9L1330.1,222.3L1319.4,211.6L1308.8,200.7L1298.3,189.4L1287.8,177.9L1277.4,166L1267,153.6L1256.7,140.8L1246.4,127.5L1236.2,113.7M1453,313.8L1441.6,303.3L1430.3,292.9L1419.1,282.7L1408,272.7L1396.9,262.7L1385.9,252.8L1374.9,242.8L1364,232.8L1353.2,222.7L1342.5,212.4L1331.8,202L1321.2,191.3L1310.7,180.3L1300.2,169L1289.7,157.3L1279.4,145.2L1269,132.6L1258.8,119.5L1248.5,105.8M1465.6,300.4L1454.2,290.1L1442.9,280.1L1431.6,270.3L1420.5,260.5L1409.3,250.9L1398.3,241.2L1387.3,231.6L1376.4,221.8L1365.6,212L1354.8,202L1344.2,191.8L1333.5,181.3L1323,170.6L1312.5,159.5L1302,148.1L1291.6,136.2L1281.3,123.8L1271,110.9L1260.8,97.5M1478.2,286.3L1466.8,276.4L1455.4,266.8L1444.2,257.2L1432.9,247.8L1421.8,238.4L1410.7,229.1L1399.7,219.7L1388.8,210.3L1378,200.7L1367.2,191L1356.5,181.1L1345.8,170.9L1335.2,160.4L1324.7,149.5L1314.3,138.3L1303.9,126.6L1293.5,114.5L1283.3,101.8L1273,88.5M1231.8,466.5L1245.4,461.2L1258.9,455.4L1272.3,449.2L1285.6,442.6L1298.8,435.5L1311.9,428L1325,420.1L1338,411.6L1351,402.7L1363.8,393.4L1376.7,383.5L1389.5,373.2L1402.2,362.3L1414.9,351L1427.6,339.1L1440.3,326.7L1453,313.8L1465.6,300.4L1478.2,286.3M1220.6,450.1L1234.2,445.1L1247.7,439.7L1261.1,433.9L1274.4,427.6L1287.6,420.9L1300.8,413.7L1313.8,406.1L1326.8,398L1339.8,389.5L1352.7,380.4L1365.5,370.9L1378.3,360.9L1391,350.4L1403.7,339.4L1416.4,327.9L1429,315.8L1441.6,303.3L1454.2,290.1L1466.8,276.4M1209.5,434.1L1223.1,429.5L1236.6,424.4L1250,418.9L1263.3,413L1276.5,406.6L1289.7,399.8L1302.7,392.5L1315.7,384.7L1328.7,376.5L1341.5,367.8L1354.3,358.6L1367.1,348.9L1379.8,338.8L1392.5,328.1L1405.1,316.9L1417.7,305.2L1430.3,292.9L1442.9,280.1L1455.4,266.8M1198.4,418.4L1212,414.1L1225.5,409.4L1238.9,404.2L1252.2,398.6L1265.5,392.5L1278.6,386L1291.7,379.1L1304.7,371.6L1317.6,363.7L1330.4,355.4L1343.2,346.5L1356,337.1L1368.7,327.3L1381.3,316.9L1394,306.1L1406.5,294.7L1419.1,282.7L1431.6,270.3L1444.2,257.2M1187.3,402.9L1201,398.9L1214.5,394.5L1227.9,389.7L1241.2,384.4L1254.5,378.7L1267.6,372.5L1280.7,365.9L1293.7,358.8L1306.6,351.2L1319.4,343.1L1332.2,334.6L1344.9,325.5L1357.6,316L1370.3,305.9L1382.9,295.4L1395.4,284.3L1408,272.7L1420.5,260.5L1432.9,247.8M1176.3,387.6L1190,384L1203.5,379.9L1217,375.4L1230.3,370.4L1243.5,365L1256.7,359.2L1269.7,352.8L1282.7,346L1295.6,338.8L1308.5,331L1321.2,322.8L1334,314L1346.6,304.8L1359.2,295.1L1371.8,284.8L1384.4,274L1396.9,262.7L1409.3,250.9L1421.8,238.4M1165.4,372.5L1179,369.2L1192.6,365.5L1206,361.3L1219.4,356.6L1232.6,351.5L1245.8,345.9L1258.8,339.9L1271.8,333.4L1284.7,326.4L1297.6,319L1310.3,311L1323,302.6L1335.7,293.7L1348.3,284.2L1360.9,274.3L1373.4,263.8L1385.9,252.8L1398.3,241.2L1410.7,229.1M1154.5,357.6L1168.2,354.5L1181.7,351.1L1195.2,347.2L1208.5,342.8L1221.8,338L1234.9,332.8L1248,327L1261,320.8L1273.9,314.1L1286.7,307L1299.5,299.3L1312.2,291.2L1324.8,282.5L1337.4,273.4L1350,263.7L1362.4,253.5L1374.9,242.8L1387.3,231.6L1399.7,219.7M1143.6,342.6L1157.3,339.9L1170.9,336.8L1184.4,333.2L1197.7,329.1L1211,324.6L1224.2,319.6L1237.2,314.2L1250.2,308.3L1263.1,301.9L1275.9,295L1288.7,287.6L1301.4,279.8L1314,271.4L1326.6,262.5L1339.1,253.2L1351.6,243.2L1364,232.8L1376.4,221.8L1388.8,210.3M1132.8,327.8L1146.6,325.3L1160.2,322.5L1173.6,319.2L1187,315.4L1200.3,311.2L1213.4,306.5L1226.5,301.3L1239.5,295.7L1252.4,289.6L1265.2,283L1278,275.9L1290.7,268.3L1303.3,260.2L1315.8,251.6L1328.3,242.5L1340.8,232.9L1353.2,222.7L1365.6,212L1378,200.7M1122.1,312.8L1135.8,310.7L1149.4,308.1L1162.9,305.1L1176.3,301.6L1189.6,297.7L1202.8,293.2L1215.8,288.4L1228.8,283L1241.7,277.2L1254.6,270.8L1267.3,264L1280,256.7L1292.6,248.9L1305.1,240.5L1317.6,231.7L1330.1,222.3L1342.5,212.4L1354.8,202L1367.2,191M1111.4,297.9L1125.1,296L1138.8,293.7L1152.3,291L1165.7,287.7L1179,284.1L1192.1,279.9L1205.2,275.3L1218.2,270.2L1231.1,264.6L1243.9,258.5L1256.7,252L1269.4,244.9L1282,237.4L1294.5,229.3L1307,220.7L1319.4,211.6L1331.8,202L1344.2,191.8L1356.5,181.1M1100.7,282.8L1114.5,281.2L1128.1,279.2L1141.7,276.7L1155.1,273.7L1168.4,270.3L1181.6,266.4L1194.7,262.1L1207.7,257.2L1220.6,251.9L1233.4,246.1L1246.1,239.8L1258.8,233L1271.4,225.7L1283.9,217.9L1296.4,209.5L1308.8,200.7L1321.2,191.3L1333.5,181.3L1345.8,170.9M1090.1,267.5L1103.9,266.2L1117.5,264.4L1131.1,262.2L1144.5,259.5L1157.8,256.3L1171,252.7L1184.1,248.6L1197.1,244L1210.1,238.9L1222.9,233.4L1235.6,227.3L1248.3,220.8L1260.9,213.7L1273.4,206.1L1285.9,198L1298.3,189.4L1310.7,180.3L1323,170.6L1335.2,160.4M1079.5,252L1093.3,251L1107,249.4L1120.5,247.5L1134,245L1147.3,242.1L1160.5,238.7L1173.7,234.9L1186.7,230.5L1199.6,225.7L1212.4,220.4L1225.2,214.6L1237.8,208.3L1250.4,201.4L1263,194.1L1275.4,186.3L1287.8,177.9L1300.2,169L1312.5,159.5L1324.7,149.5M1068.9,236.2L1082.7,235.5L1096.5,234.2L1110,232.5L1123.5,230.3L1136.9,227.6L1150.1,224.5L1163.2,220.9L1176.2,216.8L1189.2,212.2L1202,207.1L1214.8,201.5L1227.4,195.4L1240,188.8L1252.5,181.7L1265,174.1L1277.4,166L1289.7,157.3L1302,148.1L1314.3,138.3M1058.3,220.2L1072.2,219.6L1086,218.6L1099.6,217.2L1113.1,215.2L1126.4,212.8L1139.7,209.9L1152.8,206.5L1165.8,202.6L1178.8,198.3L1191.6,193.4L1204.4,188.1L1217.1,182.2L1229.7,175.8L1242.2,169L1254.6,161.6L1267,153.6L1279.4,145.2L1291.6,136.2L1303.9,126.6M1047.8,203.7L1061.7,203.5L1075.5,202.7L1089.1,201.4L1102.6,199.7L1116,197.5L1129.3,194.9L1142.4,191.7L1155.5,188.1L1168.4,183.9L1181.3,179.3L1194.1,174.2L1206.7,168.5L1219.3,162.4L1231.9,155.7L1244.3,148.5L1256.7,140.8L1269,132.6L1281.3,123.8L1293.5,114.5M1037.3,186.9L1051.2,186.8L1065,186.3L1078.7,185.3L1092.2,183.8L1105.6,181.9L1118.9,179.4L1132.1,176.5L1145.2,173.1L1158.1,169.1L1171,164.7L1183.8,159.8L1196.5,154.4L1209.1,148.5L1221.6,142L1234,135L1246.4,127.5L1258.8,119.5L1271,110.9L1283.3,101.8M1026.8,169.6L1040.8,169.8L1054.6,169.5L1068.3,168.7L1081.8,167.4L1095.3,165.7L1108.6,163.5L1121.8,160.8L1134.9,157.5L1147.8,153.8L1160.7,149.6L1173.5,144.9L1186.2,139.7L1198.8,134L1211.3,127.7L1223.8,121L1236.2,113.7L1248.5,105.8L1260.8,97.5L1273,88.5" class="m" stroke-width="1.2"/>
<path d="M1023.8,108L1037,376.5L1232.1,521.2L1472.6,399.4" class="ax" stroke-width="1.3"/>
<path d="M1037,376.5L1041.1,374.6M1036.4,365.9L1038.8,364.8M1035.9,355.3L1038.3,354.2M1035.4,344.6L1037.8,343.5M1034.9,333.9L1039.1,332M1034.3,323.1L1036.7,322.1M1033.8,312.3L1036.2,311.2M1033.3,301.4L1035.7,300.4M1032.7,290.5L1037,288.6M1032.2,279.5L1034.6,278.4M1031.7,268.4L1034,267.4M1031.1,257.3L1033.5,256.3M1030.6,246.2L1034.8,244.4M1030,235L1032.4,234M1029.5,223.7L1031.9,222.7M1028.9,212.4L1031.3,211.4M1028.3,201L1032.6,199.3M1027.8,189.6L1030.2,188.6M1027.2,178.1L1029.6,177.1M1026.7,166.6L1029.1,165.6M1026.1,155L1030.4,153.3M1025.5,143.3L1027.9,142.4M1024.9,131.6L1027.4,130.6M1024.4,119.8L1026.8,118.9M1023.8,108L1028.1,106.3M1232.1,521.2L1236.2,519.1M1226.3,516.9L1228.6,515.7M1220.5,512.6L1222.8,511.4M1214.7,508.3L1217.1,507.1M1209,504L1213.1,502M1203.3,499.8L1205.6,498.6M1197.6,495.6L1199.9,494.4M1191.9,491.4L1194.2,490.2M1186.3,487.2L1190.4,485.1M1180.6,483L1183,481.9M1175,478.9L1177.4,477.7M1169.4,474.7L1171.8,473.6M1163.9,470.6L1168,468.6M1158.3,466.5L1160.7,465.4M1152.8,462.4L1155.2,461.3M1147.3,458.3L1149.7,457.2M1141.9,454.3L1146,452.3M1136.4,450.2L1138.8,449.1M1131,446.2L1133.4,445.1M1125.6,442.2L1127.9,441.1M1120.2,438.2L1124.4,436.2M1114.9,434.2L1117.2,433.1M1109.5,430.3L1111.9,429.2M1104.2,426.3L1106.6,425.2M1098.9,422.4L1103.1,420.5M1093.6,418.5L1096,417.4M1088.4,414.6L1090.7,413.5M1083.1,410.7L1085.5,409.6M1077.9,406.9L1082.1,404.9M1072.7,403L1075.1,401.9M1067.6,399.2L1069.9,398.1M1062.4,395.3L1064.8,394.3M1057.3,391.5L1061.5,389.6M1052.2,387.8L1054.5,386.7M1047.1,384L1049.4,382.9M1042,380.2L1044.4,379.1M1037,376.5L1041.1,374.6M1232.1,521.2L1228.4,518.4M1240.1,517.2L1238,515.6M1248,513.1L1245.9,511.6M1255.9,509.1L1253.8,507.6M1263.8,505.1L1260.1,502.4M1271.6,501.2L1269.5,499.6M1279.5,497.2L1277.3,495.7M1287.2,493.3L1285.1,491.7M1295,489.3L1291.2,486.7M1302.7,485.4L1300.6,483.9M1310.4,481.5L1308.3,480M1318.1,477.6L1316,476.1M1325.7,473.8L1322,471.1M1333.3,469.9L1331.2,468.4M1340.9,466.1L1338.8,464.6M1348.5,462.3L1346.3,460.8M1356,458.4L1352.2,455.8M1363.5,454.6L1361.3,453.2M1370.9,450.9L1368.8,449.4M1378.4,447.1L1376.2,445.6M1385.8,443.3L1382,440.8M1393.2,439.6L1391,438.2M1400.5,435.9L1398.4,434.4M1407.8,432.2L1405.7,430.7M1415.1,428.5L1411.3,425.9M1422.4,424.8L1420.2,423.4M1429.7,421.1L1427.5,419.7M1436.9,417.5L1434.7,416M1444.1,413.8L1440.2,411.3M1451.2,410.2L1449.1,408.8M1458.4,406.6L1456.2,405.2M1465.5,403L1463.3,401.6M1472.6,399.4L1468.7,396.9" class="tk"/>
<g class="tl"><text transform="matrix(0.932 -0.362 0.046 0.999 1023.4 343.9)" font-size="17" text-anchor="end">1</text>
<text transform="matrix(0.932 -0.362 0.046 0.999 1021.2 300.5)" font-size="17" text-anchor="end">2</text>
<text transform="matrix(0.932 -0.362 0.046 0.999 1019.1 256.2)" font-size="17" text-anchor="end">3</text>
<text transform="matrix(0.932 -0.362 0.046 0.999 1016.8 211)" font-size="17" text-anchor="end">4</text>
<text transform="matrix(0.932 -0.362 0.046 0.999 1014.6 165)" font-size="17" text-anchor="end">5</text>
<text transform="matrix(0.932 -0.362 0.046 0.999 1012.3 118)" font-size="17" text-anchor="end">6</text>
<text transform="matrix(0.893 -0.450 0.805 0.593 1223.8 530.2)" font-size="17" text-anchor="end">0.4</text>
<text transform="matrix(0.893 -0.450 0.805 0.593 1200.7 513)" font-size="17" text-anchor="end">0.5</text>
<text transform="matrix(0.893 -0.450 0.805 0.593 1178 496.2)" font-size="17" text-anchor="end">0.6</text>
<text transform="matrix(0.893 -0.450 0.805 0.593 1155.6 479.6)" font-size="17" text-anchor="end">0.7</text>
<text transform="matrix(0.893 -0.450 0.805 0.593 1133.6 463.3)" font-size="17" text-anchor="end">0.8</text>
<text transform="matrix(0.893 -0.450 0.805 0.593 1111.9 447.2)" font-size="17" text-anchor="end">0.9</text>
<text transform="matrix(0.893 -0.450 0.805 0.593 1090.6 431.4)" font-size="17" text-anchor="end">1.0</text>
<text transform="matrix(0.893 -0.450 0.805 0.593 1069.6 415.9)" font-size="17" text-anchor="end">1.1</text>
<text transform="matrix(0.893 -0.450 0.805 0.593 1049 400.5)" font-size="17" text-anchor="end">1.2</text>
<text transform="matrix(0.893 -0.450 0.805 0.593 1028.7 385.5)" font-size="17" text-anchor="end">1.3</text>
<text transform="matrix(0.805 0.593 -0.893 0.450 1236.1 528.7)" font-size="17" text-anchor="start">0.2</text>
<text transform="matrix(0.805 0.593 -0.893 0.450 1267.8 512.6)" font-size="17" text-anchor="start">0.3</text>
<text transform="matrix(0.805 0.593 -0.893 0.450 1299 496.8)" font-size="17" text-anchor="start">0.4</text>
<text transform="matrix(0.805 0.593 -0.893 0.450 1329.7 481.3)" font-size="17" text-anchor="start">0.5</text>
<text transform="matrix(0.805 0.593 -0.893 0.450 1360 465.9)" font-size="17" text-anchor="start">0.6</text>
<text transform="matrix(0.805 0.593 -0.893 0.450 1389.8 450.8)" font-size="17" text-anchor="start">0.7</text>
<text transform="matrix(0.805 0.593 -0.893 0.450 1419.1 436)" font-size="17" text-anchor="start">0.8</text>
<text transform="matrix(0.805 0.593 -0.893 0.450 1448.1 421.3)" font-size="17" text-anchor="start">0.9</text>
<text transform="matrix(0.805 0.593 -0.893 0.450 1476.6 406.9)" font-size="17" text-anchor="start">1.0</text>
<text transform="matrix(0.893 -0.450 0.805 0.593 1407 495)" font-size="21.3" text-anchor="middle">TMP (bar)</text>
<text transform="matrix(0.805 0.593 -0.893 0.450 1067 475.5)" font-size="21.3" text-anchor="middle">V<tspan font-size="65%" dy="4">L</tspan><tspan dy="-4"> (m/s)</tspan></text>
<text transform="matrix(0.046 0.999 -0.932 0.362 976 275)" font-size="21.3" text-anchor="middle">E (kWh/m<tspan font-size="65%" dy="-7">3</tspan><tspan dy="7">)</tspan></text></g>
</g>
<g>
<path d="M292.7,1263.7L102.2,1122.4M102.2,1122.4L89.6,860.4M323.7,1248.1L132.4,1108.9M132.4,1108.9L121.6,848M354.1,1232.7L162.1,1095.5M162.1,1095.5L153.2,835.8M384.1,1217.6L191.5,1082.3M191.5,1082.3L184.3,823.7M413.7,1202.6L220.4,1069.3M220.4,1069.3L215,811.8M442.9,1187.9L249,1056.5M249,1056.5L245.2,800.1M471.6,1173.4L277.1,1043.8M277.1,1043.8L275,788.6M499.9,1159.1L304.9,1031.3M304.9,1031.3L304.4,777.2M527.8,1145L332.3,1019M332.3,1019L333.3,766M292.7,1263.7L527.8,1145M527.8,1145L540.7,881.1M267.4,1245L501.9,1128.3M501.9,1128.3L513.1,865.8M242.5,1226.5L476.4,1111.9M476.4,1111.9L486.1,850.8M218.1,1208.4L451.4,1095.8M451.4,1095.8L459.5,836M194.1,1190.6L426.8,1079.9M426.8,1079.9L433.3,821.5M170.5,1173.1L402.5,1064.3M402.5,1064.3L407.7,807.3M147.3,1155.9L378.7,1049M378.7,1049L382.5,793.3M124.6,1139L355.3,1033.9M355.3,1033.9L357.7,779.5M102.2,1122.4L332.3,1019M332.3,1019L333.3,766M102.2,1122.4L332.3,1019M332.3,1019L527.8,1145M99.8,1072.4L332.5,970.6M332.5,970.6L530.2,1094.7M97.3,1021.2L332.7,921.1M332.7,921.1L532.8,1043.1M94.8,968.9L332.9,870.6M332.9,870.6L535.4,990.4M92.2,915.3L333.1,818.9M333.1,818.9L538,936.4M89.6,860.4L333.3,766M333.3,766L540.7,881.1" class="g"/>
<path d="M291.9,1093.6L308.9,1083L325.7,1072.8L342.5,1063.1L359.1,1053.9L375.6,1045.1L392,1036.8L408.2,1029L421.1,1023.1L437,1016.3L452.9,1009.9L468.5,1004.1L481,999.8L496.4,995L508.6,991.6L523.7,987.8L535.6,985.1L524.8,966.2L513.9,948.5L503.1,931.9L497.6,924.1L489.5,912.9L478.6,898.9L473.2,892.3L465,882.9L454.2,871.3L448.8,865.8L440.7,858.1L429.9,848.7L424.5,844.3L416.5,838.2L411.2,834.4L403.2,829L397.9,825.7L390,821.1L376.9,814.4L369.1,810.9L361.3,807.8L348.5,803.4L340.8,801.2L333.2,799.4L321.1,801.2L306,804.2L290.7,808.1L275.2,812.9L262.8,817.4L247.2,823.7L231.4,830.8L215.6,838.8L202.8,845.8L186.8,855.2L170.8,865.5L154.6,876.5L141.7,885.9L125.4,898.4L109.1,911.5L92.7,925.5L99.8,926.4L107,927.7L119.2,930.5L131.5,934.5L139,937.4L144,939.5L151.6,943.1L156.7,945.8L164.4,950.2L169.6,953.4L177.4,958.6L182.6,962.3L193.2,970.5L201.1,977.3L206.5,982.2L217.2,992.7L225.4,1001.3L230.8,1007.3L241.8,1020.3L250,1030.8L255.6,1038.2L266.7,1053.8L277.8,1070.7L289.1,1088.9Z" fill="#006450"/>
<path d="M291.9,1093.6L308.9,1083L322.4,1074.8L349.2,1059.4L365.7,1050.3L378.9,1043.4L392,1036.8L405,1030.5L421.1,1023.1L437,1016.3L452.9,1009.9L465.4,1005.2L481,999.8L493.3,995.9L508.6,991.6L522.3,988.1L532.8,980.1L522.1,961.7L511.2,944.2L500.3,928L494.9,920.3L486.7,909.3L475.9,895.5L470.4,889.1L462.3,879.9L451.5,868.5L446.1,863.2L438,855.7L427.2,846.5L421.9,842.2L413.9,836.2L408.5,832.5L400.6,827.3L387.4,819.7L374.3,813.2L361.3,807.8L348.5,803.4L340.8,801.2L333.2,799.4L321.1,801.2L306,804.2L290.7,808.1L275.2,812.9L262.8,817.4L247.2,823.7L231.4,830.8L215.6,838.8L202.8,845.8L186.8,855.2L170.8,865.5L154.6,876.5L141.7,885.9L125.4,898.4L109.1,911.5L92.7,925.5L99.8,926.4L107,927.7L119.2,930.5L126.5,932.8L134,935.4L141.5,938.4L146.5,940.7L154.2,944.4L159.3,947.2L167,951.7L172.2,955L180,960.4L185.2,964.3L195.8,972.7L203.8,979.7L209.2,984.7L219.9,995.5L228.1,1004.3L233.5,1010.5L244.5,1023.7L252.8,1034.5L258.3,1042L269.5,1057.9L280.6,1075.1Z" fill="#00a000" fill-rule="evenodd"/>
<path d="M338.2,1059.3L358,1052.1L374.4,1045.7L392,1036.8L411.4,1027.5L430.7,1018.9L447.9,1011.9L458.4,1006.1L469.7,999.6L478,994.7L488.7,988L496.5,982.8L506.5,975.9L516.1,968.8L523.1,963.4L513.9,948.5L505.8,936L497.6,924.1L489.5,912.9L481.3,902.3L473.2,892.3L465,882.9L456.9,874.1L448.8,865.8L440.7,858.1L432.6,851L421.9,842.2L413.9,836.2L405.9,830.7L397.9,825.7L387.4,819.7L374.3,813.2L361.3,807.8L348.5,803.4L340.8,801.2L333.2,799.4L318.1,801.7L302.9,804.9L287.6,809L278.3,811.9L269,815.1L259.7,818.6L250.3,822.3L240.9,826.4L228.3,832.3L218.8,837.1L206,844L196.5,849.5L183.6,857.2L174,863.4L161.1,872L151.4,878.8L138.4,888.3L128.6,895.8L115.6,906.2L105.8,914.3L92.7,925.5L99.8,926.4L107,927.7L119.2,930.5L131.5,934.5L139,937.4L144,939.5L151.6,943.1L156.7,945.8L167,951.7L174.8,956.8L180,960.4L190.5,968.4L198.5,975L203.8,979.7L214.5,990L225.4,1001.3L236.3,1013.7L247.3,1027.2L258.3,1042L269.5,1057.9L281.8,1077L309.6,1068.8Z" fill="#00e100" fill-rule="evenodd"/>
<path d="M369.9,1023.8L391.5,1015L411,1006.3L432.7,995.7L450.3,986.2L467.1,976.5L483,966.4L497.9,956L505,950.7L511.9,945.2L503.1,931.9L494.9,920.3L486.7,909.3L475.9,895.5L467.7,885.9L456.9,874.1L448.8,865.8L438,855.7L429.9,848.7L419.2,840.2L408.5,832.5L397.9,825.7L387.4,819.7L376.9,814.4L366.5,809.8L356.1,805.9L345.9,802.6L333.2,799.4L321.1,801.2L312.1,802.9L302.9,804.9L293.7,807.3L281.4,810.9L272.1,814L262.8,817.4L253.4,821L240.9,826.4L225.1,833.9L215.6,838.8L206,844L186.8,855.2L167.5,867.6L151.4,878.8L131.9,893.3L112.3,908.8L92.7,925.5L104.6,927.2L116.7,929.9L129,933.6L139,937.4L146.5,940.7L151.6,943.1L161.8,948.7L172.2,955L182.6,962.3L193.2,970.5L203.8,979.7L214.5,990L225.4,1001.3L236.3,1013.7L247.3,1027.2L258.3,1042L268.3,1056.3L292.8,1049.7L308.6,1045.1L320.2,1041.5L335,1036.6L346.2,1032.7Z" fill="#28fa0a" fill-rule="evenodd"/>
<path d="M378.5,996.8L396.1,989.3L415,980.5L430.1,972.8L447.4,963.4L463.6,953.5L476.5,945L488.5,936.3L499.8,927.2L489.5,912.9L481.3,902.3L473.2,892.3L462.3,879.9L454.2,871.3L443.4,860.6L432.6,851L421.9,842.2L413.9,836.2L403.2,829L392.6,822.6L382.1,817L371.7,812L361.3,807.8L351,804.2L338.3,800.6L333.2,799.4L321.1,801.2L312.1,802.9L302.9,804.9L293.7,807.3L284.5,810L269,815.1L253.4,821L237.7,827.9L221.9,835.5L206,844L190.1,853.3L174,863.4L157.9,874.3L141.7,885.9L125.4,898.4L109.1,911.5L92.7,925.5L104.6,927.2L114.3,929.3L124.1,932L134,935.4L144,939.5L154.2,944.4L164.4,950.2L174.8,956.8L185.2,964.3L195.8,972.7L206.5,982.2L214.5,990L225.4,1001.3L233.5,1010.5L244.5,1023.7L253.2,1035L266.1,1032.2L282.8,1028.2L299,1024L314.7,1019.4L333.6,1013.4L348.2,1008.4L362.4,1003.1Z" fill="#ffff00" fill-rule="evenodd"/>
<path d="M366.3,976L385.7,968L401.6,960.8L416.8,953.4L434.1,944L442.3,939.2L450.3,934.2L462.9,925.7L474.7,916.9L485.5,907.7L475.9,895.5L467.7,885.9L459.6,876.9L451.5,868.5L443.4,860.6L435.3,853.3L427.2,846.5L416.5,838.2L408.5,832.5L397.9,825.7L390,821.1L379.5,815.7L371.7,812L361.3,807.8L351,804.2L340.8,801.2L333.2,799.4L324.2,800.7L315.1,802.3L306,804.2L296.8,806.5L281.4,810.9L265.9,816.2L250.3,822.3L234.6,829.3L221.9,835.5L206,844L190.1,853.3L174,863.4L161.1,872L144.9,883.5L128.6,895.8L112.9,908.4L111,918.4L109.7,928.2L119.2,930.5L126.5,932.8L134,935.4L141.5,938.4L149.1,941.9L156.7,945.8L164.4,950.2L172.2,955L180,960.4L187.9,966.3L195.8,972.7L203.8,979.7L211.8,987.3L219.9,995.5L228.1,1004.3L233.7,1010.6L247.7,1008.7L265.5,1005.5L282.6,1001.9L298.9,997.8L314.7,993.5L333.6,987.7L351.7,981.5Z" fill="#ff6400" fill-rule="evenodd"/>
<path d="M348.4,954.9L366.4,948.2L376.3,944.1L385.9,939.9L395.2,935.5L404.2,931.1L418.5,923.3L431.9,915.2L439.6,910.2L446.8,905L451.5,901.5L458.3,895.8L464.1,890.5L468.1,886.4L462.3,879.9L454.2,871.3L448.8,865.8L440.7,858.1L435.3,853.3L427.2,846.5L421.9,842.2L413.9,836.2L408.5,832.5L400.6,827.3L392.6,822.6L384.7,818.3L376.9,814.4L369.1,810.9L361.3,807.8L353.6,805.1L343.3,801.9L333.2,799.4L330.2,799.8L315.1,802.3L306,804.2L296.8,806.5L281.4,810.9L272.1,814L262.8,817.4L250.3,822.3L234.6,829.3L218.8,837.1L202.8,845.8L190.1,853.3L174,863.4L157.9,874.3L142.5,885.3L140.9,892L139.6,899.3L139,904.8L138.5,912.8L138.5,918.4L139.1,925.9L140.4,933.4L141.7,938.5L149.1,941.9L156.7,945.8L164.4,950.2L172.2,955L180,960.4L187.9,966.3L195.8,972.7L202.9,978.9L210.5,979.5L216.7,979.8L223.4,979.8L232,979.6L242.3,978.9L252,978L261.4,976.8L270.5,975.4L289.7,971.6L308.1,967.2L327.4,961.8Z" fill="#ff0000" fill-rule="evenodd"/>
<path d="M354,920.8L369,914.7L384.3,907.6L398.6,900L404.5,896.4L411.7,891.8L421.3,884.8L425.8,881.2L430.4,877.1L435.1,872.4L438.9,868.1L441.8,864.1L443.8,861L432.6,851L427.2,846.5L419.2,840.2L408.5,832.5L403.2,829L395.3,824.1L384.7,818.3L371.7,812L358.7,806.8L345.9,802.6L336,800L329.6,799.9L315.1,802.3L302.9,804.9L287.6,809L272.1,814L256.6,819.8L247.2,823.7L237.7,827.9L228.3,832.3L218.8,837.1L209.2,842.2L199.7,847.6L182.4,858L179.9,864L177.9,869.9L176.6,875.6L175.7,881.1L175.2,886.4L175.3,892.5L176,899.2L177.1,904.1L178.7,908.8L180.7,913.3L183.3,917.6L186.5,921.7L190.3,925.6L192.5,927.4L197.4,930.9L203.2,934L209.9,936.8L213.7,938L222.1,940.1L226.8,940.9L236.5,942L242.6,942.3L249.9,942.4L257,942.3L264.8,941.8L273.8,940.9L283.2,939.7L294.4,937.8L304.3,935.7L312.3,933.8L323.9,930.8L331.4,928.6L342.2,925.1Z" fill="#c80000" fill-rule="evenodd"/>
<path d="M322.8,888.5L330.8,886.2L341,882.6L347.5,880L356.5,875.8L364.9,871.2L370,867.9L374.8,864.4L379.2,860.8L383.1,856.8L386.5,852.6L387.6,850.9L389.1,848L390.3,844.5L390.7,841.7L390.7,839.9L390.2,836.7L389.4,834.4L388.3,832.5L386.7,830.3L384.9,828.5L382.9,826.8L380.6,825.1L375.2,822.2L372.2,820.9L365.4,818.5L361.7,817.4L353.7,815.7L346.1,814.5L339.7,813.8L328.2,813.2L322.5,813.1L313,813.4L308.4,813.7L299.6,814.7L287.6,816.8L276.8,819.6L267,823.1L258.3,827.2L253.1,830.3L250.6,832L246.1,835.6L244,837.5L241.2,840.4L238.5,843.7L236,847.5L234.3,850.8L233.1,853.7L232.3,856.7L231.7,859.4L231.4,862.1L231.4,864.7L231.7,867.2L232.2,869.6L233.3,873.1L235,876.4L236.3,878.4L239.8,882.3L241.9,884.1L244.3,885.8L247,887.4L249.9,888.9L253.2,890.2L256.8,891.4L260.9,892.5L265.3,893.3L273.2,894.2L282.2,894.5L289.4,894.3L294.4,893.8L303.4,892.7L311.8,891.2Z" fill="#a50000" fill-rule="evenodd"/>
<path d="M291.9,1093.6L280.6,1075.1L269.5,1057.9L258.3,1042L247.3,1027.2L236.3,1013.7L225.4,1001.3L214.5,990L203.8,979.7L193.2,970.5L182.6,962.3L172.2,955L161.8,948.7L151.6,943.1L141.5,938.4L131.5,934.5L121.6,931.2L111.9,928.7L102.2,926.8L92.7,925.5M305.5,1085.1L294.3,1066.6L283.1,1049.4L272,1033.5L260.9,1018.7L249.9,1005.1L239,992.6L228.1,981.2L217.4,970.9L206.7,961.5L196.1,953.2L185.7,945.7L175.3,939.2L165,933.4L154.9,928.5L144.8,924.3L134.9,920.9L125.1,918.1L115.4,915.9L105.8,914.3M319,1076.9L307.8,1058.4L296.6,1041.2L285.5,1025.2L274.4,1010.4L263.4,996.7L252.5,984.2L241.6,972.7L230.9,962.3L220.2,952.8L209.6,944.3L199.1,936.7L188.7,930L178.4,924.1L168.2,919L158.1,914.6L148.1,910.9L138.3,907.9L128.5,905.4L118.9,903.5M332.5,1068.9L321.3,1050.5L310.1,1033.3L299,1017.2L287.9,1002.4L276.9,988.7L266,976.1L255.1,964.5L244.3,954L233.6,944.4L223,935.8L212.5,928L202,921.2L191.7,915.1L181.5,909.8L171.3,905.2L161.3,901.3L151.4,898.1L141.6,895.4L131.9,893.3M345.8,1061.2L334.6,1042.8L323.5,1025.6L312.4,1009.6L301.3,994.7L290.3,980.9L279.4,968.2L268.5,956.6L257.7,946L247,936.3L236.3,927.6L225.8,919.7L215.3,912.7L204.9,906.5L194.7,901L184.5,896.3L174.4,892.2L164.5,888.7L154.6,885.9L144.9,883.5M359.1,1053.9L347.9,1035.4L336.8,1018.2L325.7,1002.2L314.6,987.2L303.6,973.4L292.7,960.7L281.8,949L271,938.3L260.2,928.5L249.6,919.7L239,911.7L228.5,904.5L218.1,898.2L207.8,892.6L197.6,887.7L187.5,883.4L177.5,879.8L167.6,876.8L157.9,874.3M372.3,1046.8L361.2,1028.4L350,1011.1L338.9,995L327.9,980.1L316.9,966.2L305.9,953.4L295,941.7L284.2,930.9L273.4,921L262.8,912.1L252.2,904L241.7,896.8L231.2,890.3L220.9,884.6L210.7,879.5L200.6,875.1L190.5,871.4L180.6,868.2L170.8,865.5M385.4,1040.1L374.3,1021.6L363.2,1004.3L352.1,988.2L341.1,973.2L330,959.3L319.1,946.5L308.2,934.7L297.4,923.8L286.6,913.9L275.9,904.9L265.3,896.7L254.8,889.3L244.3,882.8L234,876.9L223.7,871.8L213.5,867.3L203.5,863.4L193.5,860L183.6,857.2M398.5,1033.6L387.4,1015.2L376.3,997.9L365.2,981.7L354.1,966.7L343.1,952.8L332.2,939.9L321.3,928L310.4,917.1L299.7,907.1L289,898L278.3,889.7L267.8,882.3L257.3,875.6L246.9,869.7L236.6,864.5L226.5,859.9L216.4,855.8L206.4,852.4L196.5,849.5M411.4,1027.5L400.3,1009L389.2,991.7L378.2,975.5L367.1,960.5L356.1,946.5L345.2,933.5L334.3,921.6L323.4,910.6L312.6,900.6L301.9,891.4L291.3,883.1L280.7,875.6L270.2,868.9L259.8,862.9L249.5,857.6L239.3,852.9L229.2,848.8L219.2,845.2L209.2,842.2M424.3,1021.7L413.2,1003.2L402.1,985.9L391.1,969.7L380.1,954.6L369.1,940.5L358.1,927.6L347.2,915.6L336.4,904.6L325.6,894.5L314.8,885.3L304.2,876.9L293.6,869.3L283.1,862.6L272.7,856.5L262.3,851.1L252.1,846.3L242,842.2L231.9,838.6L221.9,835.5M437,1016.3L426,997.7L414.9,980.3L403.9,964.1L392.9,949L381.9,934.9L370.9,921.9L360,909.9L349.2,898.8L338.4,888.7L327.7,879.4L317,871L306.4,863.4L295.9,856.6L285.5,850.5L275.1,845.1L264.8,840.3L254.7,836.1L244.6,832.4L234.6,829.3M449.7,1011.1L438.7,992.6L427.6,975.2L416.6,958.9L405.6,943.7L394.6,929.6L383.7,916.6L372.8,904.5L361.9,893.4L351.1,883.3L340.4,874L329.7,865.6L319.1,857.9L308.6,851.1L298.1,844.9L287.8,839.5L277.5,834.7L267.3,830.5L257.2,826.8L247.2,823.7M462.3,1006.4L451.3,987.7L440.3,970.3L429.3,954L418.3,938.8L407.3,924.7L396.4,911.6L385.5,899.5L374.6,888.4L363.8,878.2L353.1,868.9L342.4,860.5L331.8,852.8L321.2,845.9L310.8,839.8L300.4,834.4L290.1,829.5L279.9,825.3L269.7,821.7L259.7,818.6M474.8,1001.9L463.8,983.3L452.8,965.8L441.8,949.4L430.8,934.2L419.9,920L409,906.9L398.1,894.8L387.2,883.7L376.4,873.5L365.7,864.2L355,855.7L344.3,848.1L333.8,841.2L323.3,835.1L312.9,829.7L302.6,824.9L292.3,820.7L282.2,817.1L272.1,814M487.1,997.8L476.2,979.1L465.2,961.6L454.3,945.2L443.3,930L432.4,915.8L421.4,902.6L410.6,890.5L399.7,879.4L388.9,869.2L378.1,859.9L367.5,851.4L356.8,843.8L346.3,837L335.8,830.9L325.3,825.4L315,820.7L304.8,816.6L294.6,813L284.5,810M499.4,994.1L488.5,975.4L477.6,957.8L466.6,941.4L455.7,926.1L444.7,911.9L433.8,898.7L423,886.6L412.1,875.4L401.3,865.2L390.6,855.9L379.9,847.5L369.2,839.9L358.6,833.1L348.1,827L337.7,821.7L327.4,817L317.1,812.9L306.9,809.4L296.8,806.5M511.6,990.8L500.7,972L489.8,954.3L478.9,937.9L467.9,922.5L457,908.3L446.1,895.1L435.3,883L424.4,871.8L413.6,861.7L402.9,852.4L392.2,844L381.5,836.4L370.9,829.7L360.4,823.7L350,818.4L339.6,813.8L329.3,809.8L319.1,806.4L309,803.5M523.7,987.8L512.8,968.9L501.9,951.2L491,934.7L480.1,919.4L469.2,905.1L458.3,891.9L447.5,879.8L436.6,868.6L425.8,858.5L415.1,849.2L404.4,840.9L393.7,833.4L383.2,826.7L372.6,820.8L362.2,815.6L351.8,811L341.5,807.2L331.3,803.9L321.1,801.2M535.6,985.1L524.8,966.2L513.9,948.5L503.1,931.9L492.2,916.5L481.3,902.3L470.4,889.1L459.6,876.9L448.8,865.8L438,855.7L427.2,846.5L416.5,838.2L405.9,830.7L395.3,824.1L384.7,818.3L374.3,813.2L363.9,808.8L353.6,805.1L343.3,801.9L333.2,799.4M291.9,1093.6L305.5,1085.1L319,1076.9L332.5,1068.9L345.8,1061.2L359.1,1053.9L372.3,1046.8L385.4,1040.1L398.5,1033.6L411.4,1027.5L424.3,1021.7L437,1016.3L449.7,1011.1L462.3,1006.4L474.8,1001.9L487.1,997.8L499.4,994.1L511.6,990.8L523.7,987.8L535.6,985.1M280.6,1075.1L294.3,1066.6L307.8,1058.4L321.3,1050.5L334.6,1042.8L347.9,1035.4L361.2,1028.4L374.3,1021.6L387.4,1015.2L400.3,1009L413.2,1003.2L426,997.7L438.7,992.6L451.3,987.7L463.8,983.3L476.2,979.1L488.5,975.4L500.7,972L512.8,968.9L524.8,966.2M269.5,1057.9L283.1,1049.4L296.6,1041.2L310.1,1033.3L323.5,1025.6L336.8,1018.2L350,1011.1L363.2,1004.3L376.3,997.9L389.2,991.7L402.1,985.9L414.9,980.3L427.6,975.2L440.3,970.3L452.8,965.8L465.2,961.6L477.6,957.8L489.8,954.3L501.9,951.2L513.9,948.5M258.3,1042L272,1033.5L285.5,1025.2L299,1017.2L312.4,1009.6L325.7,1002.2L338.9,995L352.1,988.2L365.2,981.7L378.2,975.5L391.1,969.7L403.9,964.1L416.6,958.9L429.3,954L441.8,949.4L454.3,945.2L466.6,941.4L478.9,937.9L491,934.7L503.1,931.9M247.3,1027.2L260.9,1018.7L274.4,1010.4L287.9,1002.4L301.3,994.7L314.6,987.2L327.9,980.1L341.1,973.2L354.1,966.7L367.1,960.5L380.1,954.6L392.9,949L405.6,943.7L418.3,938.8L430.8,934.2L443.3,930L455.7,926.1L467.9,922.5L480.1,919.4L492.2,916.5M236.3,1013.7L249.9,1005.1L263.4,996.7L276.9,988.7L290.3,980.9L303.6,973.4L316.9,966.2L330,959.3L343.1,952.8L356.1,946.5L369.1,940.5L381.9,934.9L394.6,929.6L407.3,924.7L419.9,920L432.4,915.8L444.7,911.9L457,908.3L469.2,905.1L481.3,902.3M225.4,1001.3L239,992.6L252.5,984.2L266,976.1L279.4,968.2L292.7,960.7L305.9,953.4L319.1,946.5L332.2,939.9L345.2,933.5L358.1,927.6L370.9,921.9L383.7,916.6L396.4,911.6L409,906.9L421.4,902.6L433.8,898.7L446.1,895.1L458.3,891.9L470.4,889.1M214.5,990L228.1,981.2L241.6,972.7L255.1,964.5L268.5,956.6L281.8,949L295,941.7L308.2,934.7L321.3,928L334.3,921.6L347.2,915.6L360,909.9L372.8,904.5L385.5,899.5L398.1,894.8L410.6,890.5L423,886.6L435.3,883L447.5,879.8L459.6,876.9M203.8,979.7L217.4,970.9L230.9,962.3L244.3,954L257.7,946L271,938.3L284.2,930.9L297.4,923.8L310.4,917.1L323.4,910.6L336.4,904.6L349.2,898.8L361.9,893.4L374.6,888.4L387.2,883.7L399.7,879.4L412.1,875.4L424.4,871.8L436.6,868.6L448.8,865.8M193.2,970.5L206.7,961.5L220.2,952.8L233.6,944.4L247,936.3L260.2,928.5L273.4,921L286.6,913.9L299.7,907.1L312.6,900.6L325.6,894.5L338.4,888.7L351.1,883.3L363.8,878.2L376.4,873.5L388.9,869.2L401.3,865.2L413.6,861.7L425.8,858.5L438,855.7M182.6,962.3L196.1,953.2L209.6,944.3L223,935.8L236.3,927.6L249.6,919.7L262.8,912.1L275.9,904.9L289,898L301.9,891.4L314.8,885.3L327.7,879.4L340.4,874L353.1,868.9L365.7,864.2L378.1,859.9L390.6,855.9L402.9,852.4L415.1,849.2L427.2,846.5M172.2,955L185.7,945.7L199.1,936.7L212.5,928L225.8,919.7L239,911.7L252.2,904L265.3,896.7L278.3,889.7L291.3,883.1L304.2,876.9L317,871L329.7,865.6L342.4,860.5L355,855.7L367.5,851.4L379.9,847.5L392.2,844L404.4,840.9L416.5,838.2M161.8,948.7L175.3,939.2L188.7,930L202,921.2L215.3,912.7L228.5,904.5L241.7,896.8L254.8,889.3L267.8,882.3L280.7,875.6L293.6,869.3L306.4,863.4L319.1,857.9L331.8,852.8L344.3,848.1L356.8,843.8L369.2,839.9L381.5,836.4L393.7,833.4L405.9,830.7M151.6,943.1L165,933.4L178.4,924.1L191.7,915.1L204.9,906.5L218.1,898.2L231.2,890.3L244.3,882.8L257.3,875.6L270.2,868.9L283.1,862.6L295.9,856.6L308.6,851.1L321.2,845.9L333.8,841.2L346.3,837L358.6,833.1L370.9,829.7L383.2,826.7L395.3,824.1M141.5,938.4L154.9,928.5L168.2,919L181.5,909.8L194.7,901L207.8,892.6L220.9,884.6L234,876.9L246.9,869.7L259.8,862.9L272.7,856.5L285.5,850.5L298.1,844.9L310.8,839.8L323.3,835.1L335.8,830.9L348.1,827L360.4,823.7L372.6,820.8L384.7,818.3M131.5,934.5L144.8,924.3L158.1,914.6L171.3,905.2L184.5,896.3L197.6,887.7L210.7,879.5L223.7,871.8L236.6,864.5L249.5,857.6L262.3,851.1L275.1,845.1L287.8,839.5L300.4,834.4L312.9,829.7L325.3,825.4L337.7,821.7L350,818.4L362.2,815.6L374.3,813.2M121.6,931.2L134.9,920.9L148.1,910.9L161.3,901.3L174.4,892.2L187.5,883.4L200.6,875.1L213.5,867.3L226.5,859.9L239.3,852.9L252.1,846.3L264.8,840.3L277.5,834.7L290.1,829.5L302.6,824.9L315,820.7L327.4,817L339.6,813.8L351.8,811L363.9,808.8M111.9,928.7L125.1,918.1L138.3,907.9L151.4,898.1L164.5,888.7L177.5,879.8L190.5,871.4L203.5,863.4L216.4,855.8L229.2,848.8L242,842.2L254.7,836.1L267.3,830.5L279.9,825.3L292.3,820.7L304.8,816.6L317.1,812.9L329.3,809.8L341.5,807.2L353.6,805.1M102.2,926.8L115.4,915.9L128.5,905.4L141.6,895.4L154.6,885.9L167.6,876.8L180.6,868.2L193.5,860L206.4,852.4L219.2,845.2L231.9,838.6L244.6,832.4L257.2,826.8L269.7,821.7L282.2,817.1L294.6,813L306.9,809.4L319.1,806.4L331.3,803.9L343.3,801.9M92.7,925.5L105.8,914.3L118.9,903.5L131.9,893.3L144.9,883.5L157.9,874.3L170.8,865.5L183.6,857.2L196.5,849.5L209.2,842.2L221.9,835.5L234.6,829.3L247.2,823.7L259.7,818.6L272.1,814L284.5,810L296.8,806.5L309,803.5L321.1,801.2L333.2,799.4" class="m" stroke-width="1.3"/>
<path d="M89.6,860.4L102.2,1122.4L292.7,1263.7L527.8,1145" class="ax" stroke-width="1.5"/>
<path d="M102.2,1122.4L106.4,1120.6M101.7,1112.5L104.1,1111.5M101.2,1102.6L103.6,1101.5M100.8,1092.6L103.1,1091.5M100.3,1082.5L102.7,1081.5M99.8,1072.4L104,1070.6M99.3,1062.3L101.7,1061.2M98.8,1052.1L101.2,1051.1M98.3,1041.9L100.7,1040.8M97.8,1031.6L100.2,1030.6M97.3,1021.2L101.6,1019.4M96.8,1010.9L99.2,1009.9M96.3,1000.4L98.7,999.4M95.8,990L98.2,989M95.3,979.5L97.7,978.5M94.8,968.9L99,967.1M94.3,958.3L96.7,957.3M93.8,947.6L96.2,946.6M93.3,936.9L95.7,935.9M92.7,926.1L95.1,925.1M92.2,915.3L96.5,913.6M91.7,904.4L94.1,903.4M91.2,893.5L93.6,892.5M90.6,882.5L93.1,881.6M90.1,871.5L92.5,870.5M89.6,860.4L93.9,858.7M292.7,1263.7L296.8,1261.7M286.3,1259L288.7,1257.8M280,1254.3L282.3,1253.1M273.7,1249.6L276,1248.5M267.4,1245L271.5,1242.9M261.1,1240.3L263.5,1239.2M254.9,1235.7L257.2,1234.5M248.7,1231.1L251,1229.9M242.5,1226.5L246.6,1224.5M236.4,1221.9L238.7,1220.8M230.2,1217.4L232.6,1216.3M224.1,1212.9L226.5,1211.8M218.1,1208.4L222.2,1206.4M212,1203.9L214.4,1202.8M206,1199.4L208.4,1198.3M200,1195L202.4,1193.9M194.1,1190.6L198.2,1188.6M188.1,1186.2L190.5,1185.1M182.2,1181.8L184.6,1180.7M176.4,1177.4L178.7,1176.3M170.5,1173.1L174.7,1171.1M164.7,1168.8L167,1167.7M158.9,1164.5L161.2,1163.4M153.1,1160.2L155.5,1159.1M147.3,1155.9L151.5,1154M141.6,1151.7L144,1150.6M135.9,1147.4L138.3,1146.4M130.2,1143.2L132.6,1142.1M124.6,1139L128.8,1137.1M118.9,1134.9L121.3,1133.8M113.3,1130.7L115.7,1129.6M107.8,1126.6L110.1,1125.5M102.2,1122.4L106.4,1120.6M292.7,1263.7L289,1261M300.5,1259.8L298.4,1258.3M308.2,1255.9L306.1,1254.4M316,1252L313.9,1250.5M323.7,1248.1L319.9,1245.4M331.3,1244.2L329.2,1242.7M338.9,1240.4L336.8,1238.9M346.6,1236.5L344.4,1235M354.1,1232.7L350.4,1230M361.7,1228.9L359.6,1227.4M369.2,1225.1L367.1,1223.6M376.7,1221.3L374.6,1219.8M384.1,1217.6L380.4,1214.9M391.6,1213.8L389.5,1212.3M399,1210.1L396.9,1208.6M406.4,1206.3L404.2,1204.9M413.7,1202.6L409.9,1200M421.1,1198.9L418.9,1197.4M428.3,1195.2L426.2,1193.8M435.6,1191.6L433.5,1190.1M442.9,1187.9L439.1,1185.3M450.1,1184.3L447.9,1182.8M457.3,1180.6L455.1,1179.2M464.4,1177L462.3,1175.6M471.6,1173.4L467.8,1170.8M478.7,1169.8L476.5,1168.4M485.8,1166.2L483.6,1164.8M492.8,1162.7L490.7,1161.2M499.9,1159.1L496,1156.6M506.9,1155.6L504.7,1154.1M513.9,1152L511.7,1150.6M520.8,1148.5L518.7,1147.1M527.8,1145L523.9,1142.5" class="tk"/>
<g class="tl"><text transform="matrix(0.932 -0.362 0.046 0.999 88.3 1082.4)" font-size="17" text-anchor="end">10</text>
<text transform="matrix(0.932 -0.362 0.046 0.999 85.8 1031.2)" font-size="17" text-anchor="end">20</text>
<text transform="matrix(0.932 -0.362 0.046 0.999 83.3 978.9)" font-size="17" text-anchor="end">30</text>
<text transform="matrix(0.932 -0.362 0.046 0.999 80.7 925.3)" font-size="17" text-anchor="end">40</text>
<text transform="matrix(0.932 -0.362 0.046 0.999 78.1 870.4)" font-size="17" text-anchor="end">50</text>
<text transform="matrix(0.893 -0.450 0.805 0.593 284.4 1272.7)" font-size="17" text-anchor="end">0.00</text>
<text transform="matrix(0.893 -0.450 0.805 0.593 259.1 1254)" font-size="17" text-anchor="end">0.05</text>
<text transform="matrix(0.893 -0.450 0.805 0.593 234.2 1235.5)" font-size="17" text-anchor="end">0.10</text>
<text transform="matrix(0.893 -0.450 0.805 0.593 209.8 1217.4)" font-size="17" text-anchor="end">0.15</text>
<text transform="matrix(0.893 -0.450 0.805 0.593 185.8 1199.6)" font-size="17" text-anchor="end">0.20</text>
<text transform="matrix(0.893 -0.450 0.805 0.593 162.2 1182.1)" font-size="17" text-anchor="end">0.25</text>
<text transform="matrix(0.893 -0.450 0.805 0.593 139 1164.9)" font-size="17" text-anchor="end">0.30</text>
<text transform="matrix(0.893 -0.450 0.805 0.593 116.3 1148)" font-size="17" text-anchor="end">0.35</text>
<text transform="matrix(0.893 -0.450 0.805 0.593 93.9 1131.4)" font-size="17" text-anchor="end">0.40</text>
<text transform="matrix(0.805 0.593 -0.893 0.450 296.7 1271.2)" font-size="17" text-anchor="start">0.2</text>
<text transform="matrix(0.805 0.593 -0.893 0.450 327.7 1255.6)" font-size="17" text-anchor="start">0.3</text>
<text transform="matrix(0.805 0.593 -0.893 0.450 358.1 1240.2)" font-size="17" text-anchor="start">0.4</text>
<text transform="matrix(0.805 0.593 -0.893 0.450 388.1 1225.1)" font-size="17" text-anchor="start">0.5</text>
<text transform="matrix(0.805 0.593 -0.893 0.450 417.7 1210.1)" font-size="17" text-anchor="start">0.6</text>
<text transform="matrix(0.805 0.593 -0.893 0.450 446.9 1195.4)" font-size="17" text-anchor="start">0.7</text>
<text transform="matrix(0.805 0.593 -0.893 0.450 475.6 1180.9)" font-size="17" text-anchor="start">0.8</text>
<text transform="matrix(0.805 0.593 -0.893 0.450 503.9 1166.6)" font-size="17" text-anchor="start">0.9</text>
<text transform="matrix(0.805 0.593 -0.893 0.450 531.8 1152.5)" font-size="17" text-anchor="start">1.0</text>
<text transform="matrix(0.893 -0.450 0.805 0.593 464 1239)" font-size="21.3" text-anchor="middle">TMP (bar)</text>
<text transform="matrix(0.805 0.593 -0.893 0.450 124 1219.5)" font-size="21.3" text-anchor="middle">V<tspan font-size="65%" dy="4">G</tspan><tspan dy="-4"> (m/s)</tspan></text>
<text transform="matrix(0.046 0.999 -0.932 0.362 29 1015)" font-size="21.3" text-anchor="middle">J (L/m<tspan font-size="65%" dy="-7">2</tspan><tspan dy="7">h)</tspan></text></g>
</g>
<g>
<path d="M1232.4,1262.7L1041.1,1119.9M1041.1,1119.9L1027.9,857.4M1263.4,1246.8L1071.3,1106.1M1071.3,1106.1L1060.1,844.9M1294,1231.2L1101.2,1092.6M1101.2,1092.6L1091.9,832.5M1324.1,1215.8L1130.6,1079.3M1130.6,1079.3L1123.1,820.4M1353.7,1200.7L1159.6,1066.1M1159.6,1066.1L1153.9,808.4M1382.9,1185.8L1188.1,1053.2M1188.1,1053.2L1184.2,796.6M1411.6,1171.1L1216.3,1040.4M1216.3,1040.4L1214.1,785M1440,1156.6L1244.1,1027.8M1244.1,1027.8L1243.5,773.5M1467.8,1142.3L1271.5,1015.4M1271.5,1015.4L1272.5,762.3M1232.4,1262.7L1467.8,1142.3M1467.8,1142.3L1481.4,878M1206.9,1243.7L1441.8,1125.5M1441.8,1125.5L1453.6,862.6M1181.9,1225L1416.2,1108.9M1416.2,1108.9L1426.3,847.4M1157.3,1206.7L1391,1092.7M1391,1092.7L1399.5,832.6M1133.2,1188.7L1366.3,1076.7M1366.3,1076.7L1373.1,818M1109.6,1171L1342,1061M1342,1061L1347.3,803.7M1086.3,1153.7L1318.1,1045.5M1318.1,1045.5L1321.9,789.6M1063.5,1136.6L1294.6,1030.3M1294.6,1030.3L1297,775.8M1041.1,1119.9L1271.5,1015.4M1271.5,1015.4L1272.5,762.3M1041.1,1119.9L1271.5,1015.4M1271.5,1015.4L1467.8,1142.3M1039,1078.3L1271.6,975.2M1271.6,975.2L1470,1100.5M1036.9,1035.9L1271.8,934.2M1271.8,934.2L1472.2,1057.8M1034.7,992.6L1272,892.4M1272,892.4L1474.4,1014.2M1032.5,948.5L1272.2,849.9M1272.2,849.9L1476.7,969.7M1030.2,903.4L1272.3,806.5M1272.3,806.5L1479,924.3M1027.9,857.4L1272.5,762.3M1272.5,762.3L1481.4,878" class="g"/>
<path d="M1231.8,1150.7L1245.3,1144.1L1262,1135.2L1278.7,1125.4L1295.2,1114.8L1308.3,1105.7L1324.6,1093.6L1340.8,1080.7L1357,1066.9L1369.9,1055.3L1385.9,1040L1401.9,1023.9L1417.9,1007L1430.6,992.8L1446.6,974.4L1462.5,955L1478.5,934.8L1466.3,939.5L1451.3,944.4L1439.6,947.4L1433.8,948.7L1425.1,950.3L1413.7,951.8L1408.1,952.3L1399.7,952.7L1394.2,952.8L1385.9,952.7L1380.4,952.3L1372.3,951.6L1361.6,950L1348.3,947.1L1335.2,943.3L1322.3,938.5L1309.5,932.8L1296.8,926.1L1284.3,918.6L1271.9,910.1L1257.2,918.4L1242.4,926L1227.4,932.8L1212.4,938.7L1197.2,943.9L1181.9,948.2L1166.4,951.8L1154,954L1138.2,956L1122.2,957.2L1106.1,957.5L1093,957.1L1076.5,955.8L1063.1,954.1L1046.2,951.2L1032.4,948.2L1045.2,968.2L1058,987.3L1070.7,1005.4L1081,1019.2L1093.8,1035.6L1106.7,1051.1L1119.6,1065.6L1130,1076.6L1143,1089.5L1156.2,1101.4L1169.4,1112.4L1180.1,1120.5L1193.5,1129.8L1204.3,1136.5L1218,1144.1L1229,1149.5Z" fill="#00694b"/>
<path d="M1231.8,1150.7L1245.3,1144.1L1262,1135.2L1278.7,1125.4L1295.2,1114.8L1308.3,1105.7L1324.6,1093.6L1340.8,1080.7L1357,1066.9L1369.9,1055.3L1385.9,1040L1401.9,1023.9L1417.9,1007L1430.6,992.8L1446.6,974.4L1462.5,955L1478.5,934.8L1466.3,939.5L1451.3,944.4L1439.6,947.4L1433.8,948.7L1425.1,950.3L1413.7,951.8L1408.1,952.3L1399.7,952.7L1394.2,952.8L1385.9,952.7L1380.4,952.3L1372.3,951.6L1361.6,950L1348.3,947.1L1335.2,943.3L1322.3,938.5L1309.5,932.8L1296.8,926.1L1284.3,918.6L1271.9,910.1L1257.2,918.4L1242.4,926L1227.4,932.8L1212.4,938.7L1197.2,943.9L1181.9,948.2L1166.4,951.8L1154,954L1138.2,956L1122.2,957.2L1106.1,957.5L1093,957.1L1076.5,955.8L1063.1,954.1L1046.2,951.2L1032.4,948.2L1045.2,968.2L1058,987.3L1070.7,1005.4L1083.5,1022.5L1096.4,1038.8L1109.3,1054.1L1122.2,1068.4L1132.6,1079.2L1145.7,1091.9L1158.8,1103.7L1172.1,1114.5L1182.8,1122.4L1196.2,1131.5L1207.1,1138.1L1220.8,1145.5ZM1235.4,1088.6L1232.1,1090L1228.4,1091.2L1224.1,1092L1220.9,1092.3L1218.9,1092.2L1215.4,1091.8L1211.3,1090.6L1208.2,1089L1205.5,1087.2L1203.2,1085.3L1201.3,1083.1L1198.2,1078.5L1196,1073.5L1194.4,1068.3L1193.7,1063.8L1193.3,1059.8L1193.3,1054.1L1193.9,1048L1195.1,1041.7L1196.4,1036.6L1198.4,1030.8L1200.8,1025.4L1203.5,1020.2L1206.6,1015.3L1210.1,1010.6L1213.9,1006.2L1218.1,1002.2L1222.8,998.5L1228.2,995.2L1231.2,993.8L1234.5,992.6L1238.2,991.6L1242.6,991.1L1245,991.1L1248.3,991.4L1249.8,991.7L1253.4,992.9L1256.3,994.3L1258.8,996L1260.9,997.9L1262.8,999.8L1264.4,1001.9L1267,1006.4L1269,1011.5L1270.2,1016.3L1270.7,1019.4L1271,1023L1271.1,1027.4L1270.8,1033.2L1270.4,1036.4L1269.8,1039.6L1268.4,1045.5L1265.7,1053.4L1264.1,1056.9L1262.1,1061L1258.3,1067.3L1256.6,1069.8L1253.2,1074.2L1248.7,1079L1243.9,1083.2L1241.3,1085.1L1238.5,1086.9Z" fill="#00822d" fill-rule="evenodd"/>
<path d="M1247.8,1142.8L1262,1135.2L1275.3,1127.4L1288.6,1119.1L1305,1108L1318.1,1098.5L1334.3,1085.9L1347.3,1075.3L1363.4,1061.2L1376.3,1049.3L1392.3,1033.7L1405.1,1020.6L1421.1,1003.5L1433.8,989.2L1449.8,970.6L1462.5,955L1478.5,934.8L1466.3,939.5L1454.3,943.5L1442.5,946.7L1436.7,948.1L1428,949.8L1416.6,951.5L1410.9,952.1L1402.5,952.6L1391.4,952.8L1385.9,952.7L1377.7,952.1L1372.3,951.6L1364.2,950.4L1350.9,947.8L1337.8,944.1L1324.8,939.5L1312,934L1299.4,927.5L1286.8,920.2L1279.3,915.3L1271.9,910.1L1263.9,914.8L1268.6,915.3L1272.7,916.1L1276.4,917.1L1282.9,919.5L1285.7,920.9L1290.9,923.8L1295.4,927.1L1301.4,932.4L1306.3,938.2L1310.6,944.4L1314.2,950.9L1317.2,957.7L1319.8,965.5L1322.1,974.9L1323.3,982.7L1324.1,990.8L1324.4,1000.8L1323.9,1010.5L1322.9,1020.3L1321.3,1029.9L1319,1039.9L1316.1,1050L1312.1,1061.4L1308.9,1069L1304.6,1078.1L1300.3,1086.1L1295.5,1094.2L1288.6,1104.2L1282.8,1111.7L1276.5,1118.8L1269.8,1125.7L1262.4,1132.3L1254.4,1138.5ZM1135.2,1081.8L1137.3,1083.9L1136.8,1072.8L1137.2,1060.8L1138.4,1050.3L1140.1,1040.4L1141.9,1032.7L1144.6,1023L1148,1013.1L1150.6,1006.3L1155.1,996.5L1158.9,989L1163.4,981.3L1167.9,974L1173.1,966.7L1179.8,958.3L1185.4,952L1191.9,945.5L1181.9,948.2L1172.6,950.4L1163.3,952.4L1154,954L1141.4,955.7L1131.8,956.6L1122.2,957.2L1112.6,957.5L1102.9,957.4L1093,957.1L1083.2,956.4L1073.2,955.5L1063.1,954.1L1053,952.5L1042.8,950.5L1032.4,948.2L1045.2,968.2L1058,987.3L1070.7,1005.4L1083.5,1022.5L1096.4,1038.8L1109.3,1054.1L1122.2,1068.4Z" fill="#00be00" fill-rule="evenodd"/>
<path d="M1317.5,1099L1327.8,1091.1L1337.6,1083.3L1347.3,1075.3L1357,1066.9L1376.3,1049.3L1385.9,1040L1398.7,1027.2L1417.9,1007L1437,985.5L1456.1,962.9L1465.7,951.1L1478.5,934.8L1463.3,940.6L1454.3,943.5L1445.4,946L1436.7,948.1L1428,949.8L1419.4,951.1L1410.9,952.1L1402.5,952.6L1394.2,952.8L1385.9,952.7L1377.7,952.1L1369.6,951.2L1361.6,950L1353.6,948.4L1346.1,946.5L1347.6,953.7L1349.2,964.1L1350.1,974.2L1350.4,983.3L1350.2,993.7L1349.5,1003.1L1348.3,1012.4L1346.8,1021.5L1344.3,1033.2L1341.9,1042.4L1339.2,1051.1L1335.3,1062L1330.5,1073.6L1326.7,1081.8L1322.3,1090.4ZM1109.3,1054.1L1109.6,1054.4L1111.5,1041.6L1114.6,1027.7L1118,1015.4L1122.2,1003.1L1127.5,989.8L1132.7,978.8L1139.5,966.1L1146.2,955.1L1131.8,956.6L1119,957.3L1102.9,957.4L1089.8,956.9L1073.2,955.5L1059.8,953.6L1046.2,951.2L1032.4,948.2L1042.6,964.3L1052.8,979.8L1063.1,994.6L1070.7,1005.4L1081,1019.2L1091.2,1032.4L1101.5,1045Z" fill="#00f000" fill-rule="evenodd"/>
<path d="M1350.6,1072.5L1366.6,1058.2L1382.7,1043.2L1398.7,1027.2L1414.7,1010.5L1430.6,992.8L1446.6,974.4L1462.5,955L1478.5,934.8L1466.3,939.5L1451.3,944.4L1439.6,947.4L1433.8,948.7L1425.1,950.3L1419.4,951.1L1410.9,952.1L1405.3,952.5L1396.9,952.8L1391.4,952.8L1383.2,952.5L1371.6,951.5L1372.1,958.1L1372.4,965.9L1372.3,980.4L1371.1,995.5L1370.3,1002.1L1368.8,1011.4L1365.8,1026.2L1363.6,1035L1361.5,1042.2L1356.7,1056.9ZM1088.7,1029.1L1089.2,1029.8L1091.6,1019.7L1094.3,1010.1L1097.4,1000.4L1100.9,990.7L1104.6,981.5L1107.8,974.2L1112,965.3L1116,957.4L1106.1,957.5L1096.3,957.2L1083.2,956.4L1073.2,955.5L1063.1,954.1L1053,952.5L1042.8,950.5L1032.4,948.2L1047.7,972.1L1060.5,991L1075.8,1012.4Z" fill="#00ff00" fill-rule="evenodd"/>
<path d="M1374.7,1050.8L1389.1,1036.9L1401.9,1023.9L1414.7,1010.5L1427.5,996.4L1440.2,981.9L1453,966.7L1465.7,951.1L1478.5,934.8L1469.3,938.4L1457.3,942.6L1445.4,946L1433.8,948.7L1422.3,950.7L1410.9,952.1L1399.7,952.7L1390.7,952.8L1390.7,965L1390.1,976.8L1388.9,989.1L1387.1,1001.9L1384.8,1014.1L1382.1,1026L1378.3,1039.7ZM1070.7,1005.4L1073.2,1008.8L1077.1,996.1L1081.6,983.2L1086.8,970.2L1092.7,957.1L1076.5,955.8L1063.1,954.1L1046.2,951.2L1032.4,948.2L1042.6,964.3L1052.8,979.8L1063.1,994.6Z" fill="#e1ff00" fill-rule="evenodd"/>
<path d="M1396.7,1029.3L1408.3,1017.3L1417.9,1007L1437,985.5L1456.1,962.9L1465.7,951.1L1478.5,934.8L1469.3,938.4L1460.3,941.6L1451.3,944.4L1442.5,946.7L1433.8,948.7L1425.1,950.3L1416.6,951.5L1408.5,952.3L1408,963.6L1407.3,972.8L1406.3,982.1L1404.9,991.7L1403.2,1001.6L1401.1,1011.7L1399.5,1018.6ZM1058,987.3L1058.2,987.6L1064.1,971.3L1070.7,955.2L1063.1,954.1L1053,952.5L1042.8,950.5L1032.4,948.2L1045.2,968.2Z" fill="#ffaf00" fill-rule="evenodd"/>
<path d="M1415.9,1009.2L1430.6,992.8L1446.6,974.4L1462.5,955L1478.5,934.8L1466.3,939.5L1451.3,944.4L1445.4,946L1436.7,948.1L1424.4,950.4L1423.2,965.6L1421.5,979.1L1418.8,995.5ZM1042.6,964.3L1044.9,967.7L1051,952.1L1042.8,950.5L1032.4,948.2Z" fill="#ff3200" fill-rule="evenodd"/>
<path d="M1433.1,990L1443.4,978.1L1456.1,962.9L1465.7,951.1L1478.5,934.8L1469.3,938.4L1457.3,942.6L1448.4,945.2L1438.9,947.6L1438,957.5L1436.7,968.6L1434.9,980ZM1032.4,948.2L1032.7,948.6L1032.8,948.3Z" fill="#ff0000" fill-rule="evenodd"/>
<path d="M1448.9,971.6L1462.5,955L1478.5,934.8L1466.3,939.5L1452.5,944L1450.9,958.6Z" fill="#e10000" fill-rule="evenodd"/>
<path d="M1461.9,955.8L1478.5,934.8L1463.8,940.4Z" fill="#be0000" fill-rule="evenodd"/>
<path d="M1231.8,1150.7L1220.8,1145.5L1209.8,1139.7L1198.9,1133.2L1188.1,1126.2L1177.4,1118.5L1166.8,1110.3L1156.2,1101.4L1145.7,1091.9L1135.2,1081.8L1124.8,1071.2L1114.4,1059.9L1104.1,1048.1L1093.8,1035.6L1083.5,1022.5L1073.3,1008.9L1063.1,994.6L1052.8,979.8L1042.6,964.3L1032.4,948.2M1245.3,1144.1L1234.2,1139.4L1223.2,1134.1L1212.3,1128.2L1201.5,1121.6L1190.8,1114.5L1180.2,1106.7L1169.6,1098.3L1159.1,1089.3L1148.6,1079.8L1138.2,1069.6L1127.9,1058.8L1117.6,1047.5L1107.3,1035.5L1097.1,1023L1086.9,1009.8L1076.7,996.1L1066.5,981.7L1056.3,966.8L1046.2,951.2M1258.7,1137L1247.6,1132.9L1236.6,1128L1225.7,1122.6L1214.9,1116.5L1204.1,1109.9L1193.5,1102.6L1182.9,1094.7L1172.4,1086.2L1161.9,1077.1L1151.6,1067.5L1141.2,1057.2L1130.9,1046.3L1120.7,1034.9L1110.5,1022.8L1100.3,1010.2L1090.1,996.9L1080,983.1L1069.9,968.7L1059.8,953.6M1272,1129.4L1260.9,1125.7L1249.8,1121.4L1238.9,1116.5L1228.1,1110.9L1217.3,1104.7L1206.7,1097.9L1196.1,1090.5L1185.6,1082.6L1175.1,1074L1164.8,1064.8L1154.4,1055L1144.1,1044.6L1133.9,1033.7L1123.7,1022.1L1113.6,1010L1103.4,997.2L1093.3,983.9L1083.3,970L1073.2,955.5M1285.3,1121.3L1274.1,1118.1L1263,1114.3L1252.1,1109.8L1241.2,1104.7L1230.4,1099.1L1219.8,1092.8L1209.2,1085.9L1198.7,1078.4L1188.2,1070.3L1177.8,1061.6L1167.5,1052.3L1157.2,1042.4L1147,1031.9L1136.9,1020.9L1126.7,1009.2L1116.6,997L1106.5,984.1L1096.5,970.7L1086.5,956.7M1298.4,1112.6L1287.2,1109.9L1276.1,1106.6L1265.1,1102.6L1254.2,1098L1243.5,1092.9L1232.8,1087L1222.2,1080.6L1211.6,1073.6L1201.2,1066L1190.8,1057.8L1180.5,1049L1170.2,1039.6L1160,1029.6L1149.9,1019L1139.7,1007.9L1129.7,996.1L1119.6,983.8L1109.6,970.9L1099.6,957.4M1311.5,1103.4L1300.3,1101.2L1289.1,1098.4L1278.1,1094.9L1267.2,1090.8L1256.4,1086.1L1245.7,1080.8L1235.1,1074.9L1224.5,1068.4L1214.1,1061.2L1203.7,1053.5L1193.4,1045.2L1183.1,1036.3L1172.9,1026.8L1162.7,1016.7L1152.6,1006L1142.6,994.8L1132.5,982.9L1122.6,970.5L1112.6,957.5M1324.6,1093.6L1313.3,1091.9L1302.1,1089.6L1291,1086.7L1280.1,1083.1L1269.3,1078.9L1258.5,1074L1247.9,1068.6L1237.3,1062.6L1226.8,1055.9L1216.4,1048.7L1206.1,1040.8L1195.9,1032.4L1185.7,1023.4L1175.5,1013.8L1165.4,1003.6L1155.4,992.8L1145.4,981.5L1135.4,969.5L1125.5,957M1337.6,1083.3L1326.2,1082.2L1315,1080.4L1303.9,1077.9L1292.9,1074.8L1282,1071.1L1271.3,1066.8L1260.6,1061.8L1250,1056.3L1239.5,1050.1L1229.1,1043.3L1218.8,1036L1208.5,1028L1198.3,1019.5L1188.2,1010.4L1178.1,1000.7L1168.1,990.4L1158.1,979.5L1148.1,968L1138.2,956M1350.5,1072.5L1339.1,1071.9L1327.8,1070.6L1316.7,1068.6L1305.7,1066L1294.7,1062.8L1284,1059L1273.3,1054.5L1262.7,1049.4L1252.1,1043.7L1241.7,1037.5L1231.4,1030.6L1221.1,1023.1L1210.9,1015.1L1200.8,1006.4L1190.7,997.2L1180.6,987.4L1170.7,977L1160.7,966L1150.8,954.4M1363.4,1061.2L1351.9,1061L1340.6,1060.2L1329.4,1058.8L1318.4,1056.7L1307.4,1054L1296.6,1050.6L1285.8,1046.7L1275.2,1042.1L1264.7,1036.9L1254.2,1031.1L1243.9,1024.7L1233.6,1017.7L1223.4,1010.1L1213.2,1001.9L1203.2,993.2L1193.1,983.9L1183.1,973.9L1173.2,963.4L1163.3,952.4M1376.3,1049.3L1364.7,1049.7L1353.4,1049.4L1342.1,1048.5L1331,1046.9L1320,1044.6L1309.1,1041.8L1298.4,1038.3L1287.7,1034.2L1277.2,1029.5L1266.7,1024.2L1256.3,1018.2L1246,1011.7L1235.8,1004.6L1225.6,996.9L1215.5,988.7L1205.5,979.8L1195.5,970.4L1185.6,960.3L1175.7,949.7M1389.1,1036.9L1377.5,1037.8L1366.1,1038L1354.8,1037.6L1343.6,1036.5L1332.6,1034.8L1321.6,1032.4L1310.8,1029.4L1300.1,1025.8L1289.6,1021.6L1279.1,1016.7L1268.7,1011.3L1258.3,1005.3L1248.1,998.6L1237.9,991.4L1227.8,983.6L1217.8,975.2L1207.8,966.3L1197.9,956.7L1188.1,946.6M1401.9,1023.9L1390.2,1025.4L1378.7,1026.1L1367.4,1026.2L1356.1,1025.6L1345.1,1024.4L1334.1,1022.5L1323.3,1020L1312.5,1016.9L1301.9,1013.2L1291.4,1008.8L1280.9,1003.9L1270.6,998.3L1260.4,992.1L1250.2,985.4L1240.1,978.1L1230,970.1L1220.1,961.7L1210.1,952.6L1200.3,942.9M1414.7,1010.5L1403,1012.4L1391.4,1013.7L1379.9,1014.3L1368.7,1014.2L1357.5,1013.5L1346.5,1012.1L1335.6,1010.1L1324.8,1007.5L1314.2,1004.2L1303.6,1000.4L1293.2,995.9L1282.8,990.8L1272.5,985.1L1262.3,978.9L1252.2,972L1242.2,964.5L1232.2,956.5L1222.3,947.9L1212.4,938.7M1427.5,996.4L1415.6,998.9L1404,1000.7L1392.5,1001.9L1381.1,1002.3L1369.9,1002.1L1358.9,1001.2L1347.9,999.7L1337.1,997.6L1326.4,994.8L1315.8,991.4L1305.3,987.4L1295,982.8L1284.7,977.6L1274.4,971.8L1264.3,965.4L1254.2,958.4L1244.2,950.9L1234.3,942.7L1224.4,934M1440.2,981.9L1428.3,984.9L1416.6,987.2L1405,988.9L1393.6,989.8L1382.3,990.1L1371.2,989.8L1360.2,988.8L1349.4,987.1L1338.6,984.8L1328,981.9L1317.5,978.4L1307,974.3L1296.7,969.6L1286.5,964.2L1276.3,958.3L1266.2,951.8L1256.2,944.7L1246.3,937.1L1236.4,928.8M1453,966.7L1441,970.3L1429.2,973.2L1417.5,975.4L1406,976.9L1394.7,977.7L1383.5,977.8L1372.5,977.3L1361.6,976.1L1350.8,974.4L1340.1,971.9L1329.5,968.9L1319.1,965.3L1308.7,961L1298.5,956.2L1288.3,950.7L1278.2,944.7L1268.1,938.1L1258.2,930.9L1248.3,923.1M1465.7,951.1L1453.6,955.2L1441.7,958.6L1430,961.3L1418.5,963.3L1407.1,964.7L1395.8,965.3L1384.7,965.3L1373.8,964.7L1362.9,963.4L1352.2,961.4L1341.6,958.9L1331.1,955.7L1320.7,952L1310.4,947.6L1300.2,942.6L1290.1,937L1280,930.9L1270,924.2L1260.1,916.8M1478.5,934.8L1466.3,939.5L1454.3,943.5L1442.5,946.7L1430.9,949.3L1419.4,951.1L1408.1,952.3L1396.9,952.8L1385.9,952.7L1375,951.9L1364.2,950.4L1353.6,948.4L1343,945.7L1332.6,942.4L1322.3,938.5L1312,934L1301.9,928.9L1291.8,923.2L1281.8,917L1271.9,910.1M1231.8,1150.7L1245.3,1144.1L1258.7,1137L1272,1129.4L1285.3,1121.3L1298.4,1112.6L1311.5,1103.4L1324.6,1093.6L1337.6,1083.3L1350.5,1072.5L1363.4,1061.2L1376.3,1049.3L1389.1,1036.9L1401.9,1023.9L1414.7,1010.5L1427.5,996.4L1440.2,981.9L1453,966.7L1465.7,951.1L1478.5,934.8M1220.8,1145.5L1234.2,1139.4L1247.6,1132.9L1260.9,1125.7L1274.1,1118.1L1287.2,1109.9L1300.3,1101.2L1313.3,1091.9L1326.2,1082.2L1339.1,1071.9L1351.9,1061L1364.7,1049.7L1377.5,1037.8L1390.2,1025.4L1403,1012.4L1415.6,998.9L1428.3,984.9L1441,970.3L1453.6,955.2L1466.3,939.5M1209.8,1139.7L1223.2,1134.1L1236.6,1128L1249.8,1121.4L1263,1114.3L1276.1,1106.6L1289.1,1098.4L1302.1,1089.6L1315,1080.4L1327.8,1070.6L1340.6,1060.2L1353.4,1049.4L1366.1,1038L1378.7,1026.1L1391.4,1013.7L1404,1000.7L1416.6,987.2L1429.2,973.2L1441.7,958.6L1454.3,943.5M1198.9,1133.2L1212.3,1128.2L1225.7,1122.6L1238.9,1116.5L1252.1,1109.8L1265.1,1102.6L1278.1,1094.9L1291,1086.7L1303.9,1077.9L1316.7,1068.6L1329.4,1058.8L1342.1,1048.5L1354.8,1037.6L1367.4,1026.2L1379.9,1014.3L1392.5,1001.9L1405,988.9L1417.5,975.4L1430,961.3L1442.5,946.7M1188.1,1126.2L1201.5,1121.6L1214.9,1116.5L1228.1,1110.9L1241.2,1104.7L1254.2,1098L1267.2,1090.8L1280.1,1083.1L1292.9,1074.8L1305.7,1066L1318.4,1056.7L1331,1046.9L1343.6,1036.5L1356.1,1025.6L1368.7,1014.2L1381.1,1002.3L1393.6,989.8L1406,976.9L1418.5,963.3L1430.9,949.3M1177.4,1118.5L1190.8,1114.5L1204.1,1109.9L1217.3,1104.7L1230.4,1099.1L1243.5,1092.9L1256.4,1086.1L1269.3,1078.9L1282,1071.1L1294.7,1062.8L1307.4,1054L1320,1044.6L1332.6,1034.8L1345.1,1024.4L1357.5,1013.5L1369.9,1002.1L1382.3,990.1L1394.7,977.7L1407.1,964.7L1419.4,951.1M1166.8,1110.3L1180.2,1106.7L1193.5,1102.6L1206.7,1097.9L1219.8,1092.8L1232.8,1087L1245.7,1080.8L1258.5,1074L1271.3,1066.8L1284,1059L1296.6,1050.6L1309.1,1041.8L1321.6,1032.4L1334.1,1022.5L1346.5,1012.1L1358.9,1001.2L1371.2,989.8L1383.5,977.8L1395.8,965.3L1408.1,952.3M1156.2,1101.4L1169.6,1098.3L1182.9,1094.7L1196.1,1090.5L1209.2,1085.9L1222.2,1080.6L1235.1,1074.9L1247.9,1068.6L1260.6,1061.8L1273.3,1054.5L1285.8,1046.7L1298.4,1038.3L1310.8,1029.4L1323.3,1020L1335.6,1010.1L1347.9,999.7L1360.2,988.8L1372.5,977.3L1384.7,965.3L1396.9,952.8M1145.7,1091.9L1159.1,1089.3L1172.4,1086.2L1185.6,1082.6L1198.7,1078.4L1211.6,1073.6L1224.5,1068.4L1237.3,1062.6L1250,1056.3L1262.7,1049.4L1275.2,1042.1L1287.7,1034.2L1300.1,1025.8L1312.5,1016.9L1324.8,1007.5L1337.1,997.6L1349.4,987.1L1361.6,976.1L1373.8,964.7L1385.9,952.7M1135.2,1081.8L1148.6,1079.8L1161.9,1077.1L1175.1,1074L1188.2,1070.3L1201.2,1066L1214.1,1061.2L1226.8,1055.9L1239.5,1050.1L1252.1,1043.7L1264.7,1036.9L1277.2,1029.5L1289.6,1021.6L1301.9,1013.2L1314.2,1004.2L1326.4,994.8L1338.6,984.8L1350.8,974.4L1362.9,963.4L1375,951.9M1124.8,1071.2L1138.2,1069.6L1151.6,1067.5L1164.8,1064.8L1177.8,1061.6L1190.8,1057.8L1203.7,1053.5L1216.4,1048.7L1229.1,1043.3L1241.7,1037.5L1254.2,1031.1L1266.7,1024.2L1279.1,1016.7L1291.4,1008.8L1303.6,1000.4L1315.8,991.4L1328,981.9L1340.1,971.9L1352.2,961.4L1364.2,950.4M1114.4,1059.9L1127.9,1058.8L1141.2,1057.2L1154.4,1055L1167.5,1052.3L1180.5,1049L1193.4,1045.2L1206.1,1040.8L1218.8,1036L1231.4,1030.6L1243.9,1024.7L1256.3,1018.2L1268.7,1011.3L1280.9,1003.9L1293.2,995.9L1305.3,987.4L1317.5,978.4L1329.5,968.9L1341.6,958.9L1353.6,948.4M1104.1,1048.1L1117.6,1047.5L1130.9,1046.3L1144.1,1044.6L1157.2,1042.4L1170.2,1039.6L1183.1,1036.3L1195.9,1032.4L1208.5,1028L1221.1,1023.1L1233.6,1017.7L1246,1011.7L1258.3,1005.3L1270.6,998.3L1282.8,990.8L1295,982.8L1307,974.3L1319.1,965.3L1331.1,955.7L1343,945.7M1093.8,1035.6L1107.3,1035.5L1120.7,1034.9L1133.9,1033.7L1147,1031.9L1160,1029.6L1172.9,1026.8L1185.7,1023.4L1198.3,1019.5L1210.9,1015.1L1223.4,1010.1L1235.8,1004.6L1248.1,998.6L1260.4,992.1L1272.5,985.1L1284.7,977.6L1296.7,969.6L1308.7,961L1320.7,952L1332.6,942.4M1083.5,1022.5L1097.1,1023L1110.5,1022.8L1123.7,1022.1L1136.9,1020.9L1149.9,1019L1162.7,1016.7L1175.5,1013.8L1188.2,1010.4L1200.8,1006.4L1213.2,1001.9L1225.6,996.9L1237.9,991.4L1250.2,985.4L1262.3,978.9L1274.4,971.8L1286.5,964.2L1298.5,956.2L1310.4,947.6L1322.3,938.5M1073.3,1008.9L1086.9,1009.8L1100.3,1010.2L1113.6,1010L1126.7,1009.2L1139.7,1007.9L1152.6,1006L1165.4,1003.6L1178.1,1000.7L1190.7,997.2L1203.2,993.2L1215.5,988.7L1227.8,983.6L1240.1,978.1L1252.2,972L1264.3,965.4L1276.3,958.3L1288.3,950.7L1300.2,942.6L1312,934M1063.1,994.6L1076.7,996.1L1090.1,996.9L1103.4,997.2L1116.6,997L1129.7,996.1L1142.6,994.8L1155.4,992.8L1168.1,990.4L1180.6,987.4L1193.1,983.9L1205.5,979.8L1217.8,975.2L1230,970.1L1242.2,964.5L1254.2,958.4L1266.2,951.8L1278.2,944.7L1290.1,937L1301.9,928.9M1052.8,979.8L1066.5,981.7L1080,983.1L1093.3,983.9L1106.5,984.1L1119.6,983.8L1132.5,982.9L1145.4,981.5L1158.1,979.5L1170.7,977L1183.1,973.9L1195.5,970.4L1207.8,966.3L1220.1,961.7L1232.2,956.5L1244.2,950.9L1256.2,944.7L1268.1,938.1L1280,930.9L1291.8,923.2M1042.6,964.3L1056.3,966.8L1069.9,968.7L1083.3,970L1096.5,970.7L1109.6,970.9L1122.6,970.5L1135.4,969.5L1148.1,968L1160.7,966L1173.2,963.4L1185.6,960.3L1197.9,956.7L1210.1,952.6L1222.3,947.9L1234.3,942.7L1246.3,937.1L1258.2,930.9L1270,924.2L1281.8,917M1032.4,948.2L1046.2,951.2L1059.8,953.6L1073.2,955.5L1086.5,956.7L1099.6,957.4L1112.6,957.5L1125.5,957L1138.2,956L1150.8,954.4L1163.3,952.4L1175.7,949.7L1188.1,946.6L1200.3,942.9L1212.4,938.7L1224.4,934L1236.4,928.8L1248.3,923.1L1260.1,916.8L1271.9,910.1" class="m" stroke-width="1.2"/>
<path d="M1027.9,857.4L1041.1,1119.9L1232.4,1262.7L1467.8,1142.3" class="ax" stroke-width="1.3"/>
<path d="M1041.1,1119.9L1045.3,1118M1040.6,1109.5L1042.9,1108.5M1040,1099.2L1042.4,1098.1M1039.5,1088.8L1041.9,1087.7M1039,1078.3L1043.2,1076.4M1038.5,1067.8L1040.8,1066.7M1037.9,1057.2L1040.3,1056.1M1037.4,1046.6L1039.8,1045.5M1036.9,1035.9L1041.1,1034M1036.3,1025.1L1038.7,1024.1M1035.8,1014.3L1038.2,1013.3M1035.2,1003.5L1037.6,1002.5M1034.7,992.6L1038.9,990.8M1034.1,981.7L1036.5,980.6M1033.6,970.6L1036,969.6M1033,959.6L1035.4,958.6M1032.5,948.5L1036.7,946.7M1031.9,937.3L1034.3,936.3M1031.3,926.1L1033.7,925.1M1030.8,914.8L1033.2,913.8M1030.2,903.4L1034.5,901.7M1029.6,892L1032,891M1029,880.5L1031.5,879.6M1028.5,869L1030.9,868.1M1027.9,857.4L1032.2,855.8M1232.4,1262.7L1236.5,1260.6M1226,1257.9L1228.3,1256.7M1219.6,1253.2L1221.9,1252M1213.2,1248.4L1215.5,1247.2M1206.9,1243.7L1211,1241.6M1200.6,1239L1202.9,1237.8M1194.3,1234.3L1196.7,1233.1M1188.1,1229.6L1190.4,1228.5M1181.9,1225L1186,1223M1175.7,1220.4L1178,1219.2M1169.6,1215.8L1171.9,1214.7M1163.4,1211.2L1165.8,1210.1M1157.3,1206.7L1161.5,1204.7M1151.3,1202.1L1153.6,1201M1145.2,1197.6L1147.6,1196.5M1139.2,1193.1L1141.6,1192M1133.2,1188.7L1137.4,1186.7M1127.3,1184.2L1129.6,1183.1M1121.4,1179.8L1123.7,1178.7M1115.4,1175.4L1117.8,1174.3M1109.6,1171L1113.7,1169M1103.7,1166.6L1106.1,1165.5M1097.9,1162.3L1100.3,1161.2M1092.1,1158L1094.5,1156.9M1086.3,1153.7L1090.5,1151.7M1080.6,1149.4L1082.9,1148.3M1074.9,1145.1L1077.2,1144M1069.2,1140.8L1071.5,1139.8M1063.5,1136.6L1067.7,1134.7M1057.9,1132.4L1060.2,1131.3M1052.2,1128.2L1054.6,1127.1M1046.6,1124L1049,1122.9M1041.1,1119.9L1045.3,1118M1232.4,1262.7L1228.7,1260M1240.2,1258.7L1238.1,1257.2M1248,1254.8L1245.9,1253.2M1255.7,1250.8L1253.6,1249.2M1263.4,1246.8L1259.7,1244.1M1271.1,1242.9L1269,1241.4M1278.8,1239L1276.7,1237.5M1286.4,1235.1L1284.3,1233.6M1294,1231.2L1290.3,1228.5M1301.6,1227.3L1299.4,1225.8M1309.1,1223.5L1307,1222M1316.6,1219.7L1314.5,1218.1M1324.1,1215.8L1320.3,1213.2M1331.5,1212L1329.4,1210.5M1339,1208.2L1336.8,1206.7M1346.4,1204.4L1344.2,1203M1353.7,1200.7L1349.9,1198.1M1361.1,1196.9L1358.9,1195.4M1368.4,1193.2L1366.2,1191.7M1375.6,1189.5L1373.5,1188M1382.9,1185.8L1379.1,1183.2M1390.1,1182.1L1388,1180.6M1397.3,1178.4L1395.2,1176.9M1404.5,1174.7L1402.3,1173.3M1411.6,1171.1L1407.8,1168.5M1418.8,1167.4L1416.6,1166M1425.9,1163.8L1423.7,1162.4M1432.9,1160.2L1430.7,1158.7M1440,1156.6L1436.1,1154.1M1447,1153L1444.8,1151.6M1454,1149.4L1451.8,1148M1460.9,1145.9L1458.7,1144.4M1467.8,1142.3L1464,1139.8" class="tk"/>
<g class="tl"><text transform="matrix(0.932 -0.362 0.046 0.999 1027.5 1088.3)" font-size="17" text-anchor="end">1</text>
<text transform="matrix(0.932 -0.362 0.046 0.999 1025.4 1045.9)" font-size="17" text-anchor="end">2</text>
<text transform="matrix(0.932 -0.362 0.046 0.999 1023.2 1002.6)" font-size="17" text-anchor="end">3</text>
<text transform="matrix(0.932 -0.362 0.046 0.999 1021 958.5)" font-size="17" text-anchor="end">4</text>
<text transform="matrix(0.932 -0.362 0.046 0.999 1018.7 913.4)" font-size="17" text-anchor="end">5</text>
<text transform="matrix(0.932 -0.362 0.046 0.999 1016.4 867.4)" font-size="17" text-anchor="end">6</text>
<text transform="matrix(0.893 -0.450 0.805 0.593 1224.1 1271.7)" font-size="17" text-anchor="end">0.00</text>
<text transform="matrix(0.893 -0.450 0.805 0.593 1198.6 1252.7)" font-size="17" text-anchor="end">0.05</text>
<text transform="matrix(0.893 -0.450 0.805 0.593 1173.6 1234)" font-size="17" text-anchor="end">0.10</text>
<text transform="matrix(0.893 -0.450 0.805 0.593 1149 1215.7)" font-size="17" text-anchor="end">0.15</text>
<text transform="matrix(0.893 -0.450 0.805 0.593 1124.9 1197.7)" font-size="17" text-anchor="end">0.20</text>
<text transform="matrix(0.893 -0.450 0.805 0.593 1101.3 1180)" font-size="17" text-anchor="end">0.25</text>
<text transform="matrix(0.893 -0.450 0.805 0.593 1078 1162.7)" font-size="17" text-anchor="end">0.30</text>
<text transform="matrix(0.893 -0.450 0.805 0.593 1055.2 1145.6)" font-size="17" text-anchor="end">0.35</text>
<text transform="matrix(0.893 -0.450 0.805 0.593 1032.8 1128.9)" font-size="17" text-anchor="end">0.40</text>
<text transform="matrix(0.805 0.593 -0.893 0.450 1236.4 1270.2)" font-size="17" text-anchor="start">0.2</text>
<text transform="matrix(0.805 0.593 -0.893 0.450 1267.4 1254.3)" font-size="17" text-anchor="start">0.3</text>
<text transform="matrix(0.805 0.593 -0.893 0.450 1298 1238.7)" font-size="17" text-anchor="start">0.4</text>
<text transform="matrix(0.805 0.593 -0.893 0.450 1328.1 1223.3)" font-size="17" text-anchor="start">0.5</text>
<text transform="matrix(0.805 0.593 -0.893 0.450 1357.7 1208.2)" font-size="17" text-anchor="start">0.6</text>
<text transform="matrix(0.805 0.593 -0.893 0.450 1386.9 1193.3)" font-size="17" text-anchor="start">0.7</text>
<text transform="matrix(0.805 0.593 -0.893 0.450 1415.6 1178.6)" font-size="17" text-anchor="start">0.8</text>
<text transform="matrix(0.805 0.593 -0.893 0.450 1444 1164.1)" font-size="17" text-anchor="start">0.9</text>
<text transform="matrix(0.805 0.593 -0.893 0.450 1471.8 1149.8)" font-size="17" text-anchor="start">1.0</text>
<text transform="matrix(0.893 -0.450 0.805 0.593 1407 1237)" font-size="21.3" text-anchor="middle">TMP (bar)</text>
<text transform="matrix(0.805 0.593 -0.893 0.450 1067 1217.5)" font-size="21.3" text-anchor="middle">V<tspan font-size="65%" dy="4">G</tspan><tspan dy="-4"> (m/s)</tspan></text>
<text transform="matrix(0.046 0.999 -0.932 0.362 980 1015)" font-size="21.3" text-anchor="middle">E (kWh/m<tspan font-size="65%" dy="-7">3</tspan><tspan dy="7">)</tspan></text></g>
</g>
<text class="pl" x="306.2" y="709.8" text-anchor="middle">(<tspan font-weight="bold">a</tspan>)</text>
<text class="pl" x="1242.3" y="709.8" text-anchor="middle">(<tspan font-weight="bold">d</tspan>)</text>
<text class="pl" x="306.2" y="1447.5" text-anchor="middle">(<tspan font-weight="bold">b</tspan>)</text>
<text class="pl" x="1242.3" y="1447.5" text-anchor="middle">(<tspan font-weight="bold">e</tspan>)</text>
</svg>

</body></html>
